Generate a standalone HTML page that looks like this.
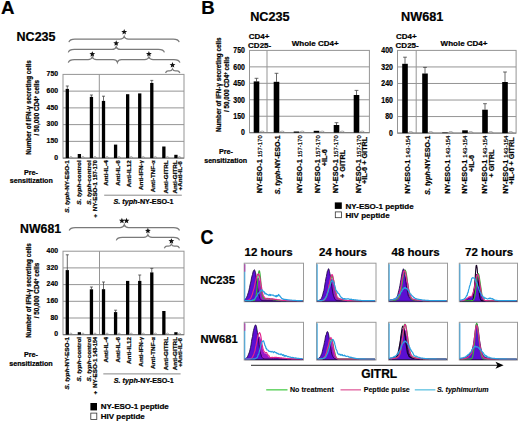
<!DOCTYPE html><html><head><meta charset="utf-8"><style>html,body{margin:0;padding:0;background:#fff;width:520px;height:423px;overflow:hidden}svg{display:block}text{font-family:"Liberation Sans",sans-serif;stroke:#000;stroke-width:0.22px;stroke-linejoin:round}</style></head><body>
<svg width="520" height="423" viewBox="0 0 520 423">
<rect width="520" height="423" fill="#fff"/>
<text x="1.0" y="13.8" font-size="18.7" font-weight="bold" text-anchor="start" fill="#000" >A</text>
<text x="16.6" y="40.5" font-size="12.5" font-weight="bold" text-anchor="start" fill="#000" >NC235</text>
<path d="M68.9,42.1 C69.5,39.9 71.10000000000001,39.1 74.9,39.1 L120.0,39.1 Q123.4,39.1 124.2,36.4 Q125.0,39.1 128.4,39.1 L173.2,39.1 C177.0,39.1 178.6,39.9 179.2,42.1" fill="none" stroke="#7a7a7a" stroke-width="1.25"/>
<polygon points="124.20,28.95 124.99,30.91 127.10,31.06 125.48,32.41 125.99,34.47 124.20,33.34 122.41,34.47 122.92,32.41 121.30,31.06 123.41,30.91" fill="#111"/>
<path d="M68.3,52.4 C68.89999999999999,50.199999999999996 70.5,49.4 74.3,49.4 L112.0,49.4 Q115.4,49.4 116.2,46.699999999999996 Q117.0,49.4 120.4,49.4 L158.4,49.4 C162.20000000000002,49.4 163.8,50.199999999999996 164.4,52.4" fill="none" stroke="#7a7a7a" stroke-width="1.25"/>
<polygon points="116.20,40.25 116.99,42.21 119.10,42.36 117.48,43.71 117.99,45.77 116.20,44.64 114.41,45.77 114.92,43.71 113.30,42.36 115.41,42.21" fill="#111"/>
<path d="M68.3,62.6 C68.89999999999999,60.4 70.5,59.6 74.3,59.6 L88.1,59.6 Q91.5,59.6 92.3,56.9 Q93.1,59.6 96.5,59.6 L113.2,59.6 Q116.60000000000001,59.6 117.4,62.300000000000004 Q118.2,59.6 121.60000000000001,59.6 L144.70000000000002,59.6 Q148.1,59.6 148.9,56.9 Q149.70000000000002,59.6 153.1,59.6 L173.9,59.6 C177.70000000000002,59.6 179.3,60.4 179.9,62.6" fill="none" stroke="#7a7a7a" stroke-width="1.25"/>
<polygon points="92.30,51.15 93.09,53.11 95.20,53.26 93.58,54.61 94.09,56.67 92.30,55.54 90.51,56.67 91.02,54.61 89.40,53.26 91.51,53.11" fill="#111"/>
<polygon points="148.90,50.95 149.69,52.91 151.80,53.06 150.18,54.41 150.69,56.47 148.90,55.34 147.11,56.47 147.62,54.41 146.00,53.06 148.11,52.91" fill="#111"/>
<path d="M165.5,72.9 C166.1,71.7 167.7,70.9 168.0,70.9 L169.5,70.9 Q171.7,70.9 172.5,68.9 Q173.3,70.9 175.5,70.9 L177.4,70.9 C177.70000000000002,70.9 179.3,71.7 179.9,72.9" fill="none" stroke="#7a7a7a" stroke-width="1.25"/>
<polygon points="172.50,62.05 173.29,64.01 175.40,64.16 173.78,65.51 174.29,67.57 172.50,66.44 170.71,67.57 171.22,65.51 169.60,64.16 171.71,64.01" fill="#111"/>
<rect x="63" y="74.4" width="121" height="83.69999999999999" fill="#fff" stroke="#959595" stroke-width="1"/>
<line x1="63" y1="91.14" x2="184" y2="91.14" stroke="#959595" stroke-width="1"/>
<line x1="63" y1="107.88" x2="184" y2="107.88" stroke="#959595" stroke-width="1"/>
<line x1="63" y1="124.62" x2="184" y2="124.62" stroke="#959595" stroke-width="1"/>
<line x1="63" y1="141.36" x2="184" y2="141.36" stroke="#959595" stroke-width="1"/>
<line x1="99.3" y1="74.4" x2="99.3" y2="158.1" stroke="#959595" stroke-width="1"/>
<line x1="63" y1="158.1" x2="184" y2="158.1" stroke="#777" stroke-width="1"/>
<line x1="67.3" y1="86" x2="67.3" y2="88.9" stroke="#444" stroke-width="0.8"/>
<line x1="65.8" y1="86" x2="68.8" y2="86" stroke="#444" stroke-width="0.8"/>
<rect x="65.65" y="88.9" width="3.3" height="69.20" fill="#000"/>
<path d="M69.35,158.1 Q69.55,156.5 70.85,156.5 Q72.15,156.5 72.35,158.1" fill="none" stroke="#888" stroke-width="0.7"/>
<rect x="77.72" y="154" width="3.3" height="4.10" fill="#000"/>
<path d="M81.42,158.1 Q81.62,156.5 82.92,156.5 Q84.22,156.5 84.42,158.1" fill="none" stroke="#888" stroke-width="0.7"/>
<line x1="91.44" y1="95" x2="91.44" y2="96.9" stroke="#444" stroke-width="0.8"/>
<line x1="89.94" y1="95" x2="92.94" y2="95" stroke="#444" stroke-width="0.8"/>
<rect x="89.79" y="96.9" width="3.3" height="61.20" fill="#000"/>
<path d="M93.49,158.1 Q93.69,156.5 94.99,156.5 Q96.29,156.5 96.49,158.1" fill="none" stroke="#888" stroke-width="0.7"/>
<line x1="103.50999999999999" y1="96.2" x2="103.50999999999999" y2="100.9" stroke="#444" stroke-width="0.8"/>
<line x1="102.00999999999999" y1="96.2" x2="105.00999999999999" y2="96.2" stroke="#444" stroke-width="0.8"/>
<rect x="101.86" y="100.9" width="3.3" height="57.20" fill="#000"/>
<path d="M105.56,158.1 Q105.76,156.5 107.06,156.5 Q108.36,156.5 108.56,158.1" fill="none" stroke="#888" stroke-width="0.7"/>
<rect x="113.93" y="144.6" width="3.3" height="13.50" fill="#000"/>
<path d="M117.63,158.1 Q117.83,156.5 119.13,156.5 Q120.43,156.5 120.63,158.1" fill="none" stroke="#888" stroke-width="0.7"/>
<rect x="126.00" y="94.2" width="3.3" height="63.90" fill="#000"/>
<path d="M129.70,158.1 Q129.90,156.5 131.20,156.5 Q132.50,156.5 132.70,158.1" fill="none" stroke="#888" stroke-width="0.7"/>
<rect x="138.07" y="93.4" width="3.3" height="64.70" fill="#000"/>
<path d="M141.77,158.1 Q141.97,156.5 143.27,156.5 Q144.57,156.5 144.77,158.1" fill="none" stroke="#888" stroke-width="0.7"/>
<line x1="151.79000000000002" y1="80.4" x2="151.79000000000002" y2="83" stroke="#444" stroke-width="0.8"/>
<line x1="150.29000000000002" y1="80.4" x2="153.29000000000002" y2="80.4" stroke="#444" stroke-width="0.8"/>
<rect x="150.14" y="83" width="3.3" height="75.10" fill="#000"/>
<path d="M153.84,158.1 Q154.04,156.5 155.34,156.5 Q156.64,156.5 156.84,158.1" fill="none" stroke="#888" stroke-width="0.7"/>
<rect x="162.21" y="146.5" width="3.3" height="11.60" fill="#000"/>
<path d="M165.91,158.1 Q166.11,156.5 167.41,156.5 Q168.71,156.5 168.91,158.1" fill="none" stroke="#888" stroke-width="0.7"/>
<rect x="174.28" y="154.8" width="3.3" height="3.30" fill="#000"/>
<path d="M177.98,158.1 Q178.18,156.5 179.48,156.5 Q180.78,156.5 180.98,158.1" fill="none" stroke="#888" stroke-width="0.7"/>
<text transform="translate(58.0,76.11) scale(0.88,1)" font-size="7.8" font-weight="bold" text-anchor="end">750</text>
<text transform="translate(58.0,92.85) scale(0.88,1)" font-size="7.8" font-weight="bold" text-anchor="end">600</text>
<text transform="translate(58.0,109.59) scale(0.88,1)" font-size="7.8" font-weight="bold" text-anchor="end">450</text>
<text transform="translate(58.0,126.33) scale(0.88,1)" font-size="7.8" font-weight="bold" text-anchor="end">300</text>
<text transform="translate(58.0,143.07) scale(0.88,1)" font-size="7.8" font-weight="bold" text-anchor="end">150</text>
<text transform="translate(58.0,159.81) scale(0.88,1)" font-size="7.8" font-weight="bold" text-anchor="end">0</text>
<text transform="translate(31.10,107.5) rotate(-90)" font-size="6.3" font-weight="bold" text-anchor="middle">Number of IFN-γ secreting cells</text>
<text transform="translate(39.30,107.8) rotate(-90)" font-size="6.3" font-weight="bold" text-anchor="middle">/ 50,000 CD4<tspan font-size="4.5" dy="-2">+</tspan><tspan dy="2"> cells</tspan></text>
<text transform="translate(69.30,160.3) rotate(-90) scale(1.1052631578947367,1)" font-size="5.7" font-weight="bold" text-anchor="end"><tspan font-style="italic">S. typh</tspan>-NY-ESO-1</text>
<text transform="translate(81.40,160.3) rotate(-90) scale(1.1052631578947367,1)" font-size="5.7" font-weight="bold" text-anchor="end"><tspan font-style="italic">S. typh</tspan>-control</text>
<text transform="translate(90.90,160.3) rotate(-90) scale(1.1052631578947367,1)" font-size="5.7" font-weight="bold" text-anchor="end"><tspan font-style="italic">S. typh</tspan>-control</text>
<text transform="translate(97.40,160.3) rotate(-90) scale(1.1052631578947367,1)" font-size="5.7" font-weight="bold" text-anchor="end">+ <tspan dx="1">NY-ESO-1</tspan> <tspan font-size="4.9">157-170</tspan></text>
<text transform="translate(107.60,160.3) rotate(-90) scale(1.1052631578947367,1)" font-size="5.7" font-weight="bold" text-anchor="end">Anti-IL-4</text>
<text transform="translate(119.70,160.3) rotate(-90) scale(1.1052631578947367,1)" font-size="5.7" font-weight="bold" text-anchor="end">Anti-IL-6</text>
<text transform="translate(130.70,160.3) rotate(-90) scale(1.1052631578947367,1)" font-size="5.7" font-weight="bold" text-anchor="end">Anti-IL12</text>
<text transform="translate(142.60,160.3) rotate(-90) scale(1.1052631578947367,1)" font-size="5.7" font-weight="bold" text-anchor="end">Anti-IFN-<tspan font-size="5">γ</tspan></text>
<text transform="translate(154.70,160.3) rotate(-90) scale(1.1052631578947367,1)" font-size="5.7" font-weight="bold" text-anchor="end">Anti-TNF-<tspan font-size="5">α</tspan></text>
<text transform="translate(167.90,160.3) rotate(-90) scale(1.1052631578947367,1)" font-size="5.7" font-weight="bold" text-anchor="end">Anti-GITRL</text>
<text transform="translate(176.50,160.3) rotate(-90) scale(1.1052631578947367,1)" font-size="5.7" font-weight="bold" text-anchor="end">Anti-GITRL</text>
<text transform="translate(181.70,161.20000000000002) rotate(-90) scale(1.1052631578947367,1)" font-size="5.7" font-weight="bold" text-anchor="end">+Anti-IL-6</text>
<line x1="104.2" y1="195.2" x2="181.8" y2="195.2" stroke="#888" stroke-width="1"/>
<text x="143.5" y="203.9" font-size="7.2" font-weight="bold" text-anchor="middle" fill="#000" ><tspan font-style="italic">S. typh</tspan>-NY-ESO-1</text>
<text x="31" y="174.5" font-size="7.2" font-weight="bold" text-anchor="middle" fill="#000" >Pre-</text>
<text x="31.3" y="183" font-size="7.1" font-weight="bold" text-anchor="middle" fill="#000" >sensitization</text>
<text x="20.1" y="232.7" font-size="12.3" font-weight="bold" text-anchor="start" fill="#000" >NW681</text>
<path d="M69.2,230.5 C69.8,228.3 71.4,227.5 75.2,227.5 L120.1,227.5 Q123.5,227.5 124.3,224.8 Q125.1,227.5 128.5,227.5 L173.5,227.5 C177.3,227.5 178.9,228.3 179.5,230.5" fill="none" stroke="#7a7a7a" stroke-width="1.25"/>
<polygon points="121.90,217.75 122.69,219.71 124.80,219.86 123.18,221.21 123.69,223.27 121.90,222.14 120.11,223.27 120.62,221.21 119.00,219.86 121.11,219.71" fill="#111"/>
<polygon points="126.50,217.75 127.29,219.71 129.40,219.86 127.78,221.21 128.29,223.27 126.50,222.14 124.71,223.27 125.22,221.21 123.60,219.86 125.71,219.71" fill="#111"/>
<path d="M116.3,240.3 C116.89999999999999,238.10000000000002 118.5,237.3 122.3,237.3 L143.70000000000002,237.3 Q147.1,237.3 147.9,234.60000000000002 Q148.70000000000002,237.3 152.1,237.3 L173.5,237.3 C177.3,237.3 178.9,238.10000000000002 179.5,240.3" fill="none" stroke="#7a7a7a" stroke-width="1.25"/>
<polygon points="147.90,227.85 148.69,229.81 150.80,229.96 149.18,231.31 149.69,233.37 147.90,232.24 146.11,233.37 146.62,231.31 145.00,229.96 147.11,229.81" fill="#111"/>
<path d="M164.3,248.2 C164.9,247.0 166.5,246.2 166.8,246.2 L168.4,246.2 Q170.6,246.2 171.4,244.2 Q172.20000000000002,246.2 174.4,246.2 L177.0,246.2 C177.3,246.2 178.9,247.0 179.5,248.2" fill="none" stroke="#7a7a7a" stroke-width="1.25"/>
<polygon points="171.40,238.15 172.19,240.11 174.30,240.26 172.68,241.61 173.19,243.67 171.40,242.54 169.61,243.67 170.12,241.61 168.50,240.26 170.61,240.11" fill="#111"/>
<rect x="63" y="251.2" width="121" height="83.5" fill="#fff" stroke="#959595" stroke-width="1"/>
<line x1="63" y1="267.90" x2="184" y2="267.90" stroke="#959595" stroke-width="1"/>
<line x1="63" y1="284.60" x2="184" y2="284.60" stroke="#959595" stroke-width="1"/>
<line x1="63" y1="301.30" x2="184" y2="301.30" stroke="#959595" stroke-width="1"/>
<line x1="63" y1="318.00" x2="184" y2="318.00" stroke="#959595" stroke-width="1"/>
<line x1="99.5" y1="251.2" x2="99.5" y2="334.7" stroke="#959595" stroke-width="1"/>
<line x1="63" y1="334.7" x2="184" y2="334.7" stroke="#777" stroke-width="1"/>
<line x1="67.3" y1="254.8" x2="67.3" y2="270.1" stroke="#444" stroke-width="0.8"/>
<line x1="65.8" y1="254.8" x2="68.8" y2="254.8" stroke="#444" stroke-width="0.8"/>
<rect x="65.65" y="270.1" width="3.3" height="64.60" fill="#000"/>
<path d="M69.35,334.7 Q69.55,333.09999999999997 70.85,333.09999999999997 Q72.15,333.09999999999997 72.35,334.7" fill="none" stroke="#888" stroke-width="0.7"/>
<rect x="77.72" y="332.2" width="3.3" height="2.50" fill="#000"/>
<path d="M81.42,334.7 Q81.62,333.09999999999997 82.92,333.09999999999997 Q84.22,333.09999999999997 84.42,334.7" fill="none" stroke="#888" stroke-width="0.7"/>
<line x1="91.44" y1="287" x2="91.44" y2="289.3" stroke="#444" stroke-width="0.8"/>
<line x1="89.94" y1="287" x2="92.94" y2="287" stroke="#444" stroke-width="0.8"/>
<rect x="89.79" y="289.3" width="3.3" height="45.40" fill="#000"/>
<path d="M93.49,334.7 Q93.69,333.09999999999997 94.99,333.09999999999997 Q96.29,333.09999999999997 96.49,334.7" fill="none" stroke="#888" stroke-width="0.7"/>
<line x1="103.50999999999999" y1="282" x2="103.50999999999999" y2="289.2" stroke="#444" stroke-width="0.8"/>
<line x1="102.00999999999999" y1="282" x2="105.00999999999999" y2="282" stroke="#444" stroke-width="0.8"/>
<rect x="101.86" y="289.2" width="3.3" height="45.50" fill="#000"/>
<path d="M105.56,334.7 Q105.76,333.09999999999997 107.06,333.09999999999997 Q108.36,333.09999999999997 108.56,334.7" fill="none" stroke="#888" stroke-width="0.7"/>
<line x1="115.58" y1="310.2" x2="115.58" y2="312.1" stroke="#444" stroke-width="0.8"/>
<line x1="114.08" y1="310.2" x2="117.08" y2="310.2" stroke="#444" stroke-width="0.8"/>
<rect x="113.93" y="312.1" width="3.3" height="22.60" fill="#000"/>
<path d="M117.63,334.7 Q117.83,333.09999999999997 119.13,333.09999999999997 Q120.43,333.09999999999997 120.63,334.7" fill="none" stroke="#888" stroke-width="0.7"/>
<rect x="126.00" y="280.9" width="3.3" height="53.80" fill="#000"/>
<path d="M129.70,334.7 Q129.90,333.09999999999997 131.20,333.09999999999997 Q132.50,333.09999999999997 132.70,334.7" fill="none" stroke="#888" stroke-width="0.7"/>
<line x1="139.72" y1="275" x2="139.72" y2="280.9" stroke="#444" stroke-width="0.8"/>
<line x1="138.22" y1="275" x2="141.22" y2="275" stroke="#444" stroke-width="0.8"/>
<rect x="138.07" y="280.9" width="3.3" height="53.80" fill="#000"/>
<path d="M141.77,334.7 Q141.97,333.09999999999997 143.27,333.09999999999997 Q144.57,333.09999999999997 144.77,334.7" fill="none" stroke="#888" stroke-width="0.7"/>
<line x1="151.79000000000002" y1="268.4" x2="151.79000000000002" y2="272.4" stroke="#444" stroke-width="0.8"/>
<line x1="150.29000000000002" y1="268.4" x2="153.29000000000002" y2="268.4" stroke="#444" stroke-width="0.8"/>
<rect x="150.14" y="272.4" width="3.3" height="62.30" fill="#000"/>
<path d="M153.84,334.7 Q154.04,333.09999999999997 155.34,333.09999999999997 Q156.64,333.09999999999997 156.84,334.7" fill="none" stroke="#888" stroke-width="0.7"/>
<rect x="162.21" y="311" width="3.3" height="23.70" fill="#000"/>
<path d="M165.91,334.7 Q166.11,333.09999999999997 167.41,333.09999999999997 Q168.71,333.09999999999997 168.91,334.7" fill="none" stroke="#888" stroke-width="0.7"/>
<rect x="174.28" y="332.2" width="3.3" height="2.50" fill="#000"/>
<path d="M177.98,334.7 Q178.18,333.09999999999997 179.48,333.09999999999997 Q180.78,333.09999999999997 180.98,334.7" fill="none" stroke="#888" stroke-width="0.7"/>
<text transform="translate(58.0,252.91) scale(0.88,1)" font-size="7.8" font-weight="bold" text-anchor="end">400</text>
<text transform="translate(58.0,269.61) scale(0.88,1)" font-size="7.8" font-weight="bold" text-anchor="end">320</text>
<text transform="translate(58.0,286.31) scale(0.88,1)" font-size="7.8" font-weight="bold" text-anchor="end">240</text>
<text transform="translate(58.0,303.01) scale(0.88,1)" font-size="7.8" font-weight="bold" text-anchor="end">160</text>
<text transform="translate(58.0,319.71) scale(0.88,1)" font-size="7.8" font-weight="bold" text-anchor="end">80</text>
<text transform="translate(58.0,336.41) scale(0.88,1)" font-size="7.8" font-weight="bold" text-anchor="end">0</text>
<text transform="translate(31.00,290.6) rotate(-90)" font-size="6.3" font-weight="bold" text-anchor="middle">Number of IFN-γ secreting cells</text>
<text transform="translate(39.00,290.4) rotate(-90)" font-size="6.3" font-weight="bold" text-anchor="middle">/ 50,000 CD4<tspan font-size="4.5" dy="-2">+</tspan><tspan dy="2"> cells</tspan></text>
<text transform="translate(69.30,337) rotate(-90) scale(1.1052631578947367,1)" font-size="5.7" font-weight="bold" text-anchor="end"><tspan font-style="italic">S. typh</tspan>-NY-ESO-1</text>
<text transform="translate(81.40,337) rotate(-90) scale(1.1052631578947367,1)" font-size="5.7" font-weight="bold" text-anchor="end"><tspan font-style="italic">S. typh</tspan>-control</text>
<text transform="translate(90.90,337) rotate(-90) scale(1.1052631578947367,1)" font-size="5.7" font-weight="bold" text-anchor="end"><tspan font-style="italic">S. typh</tspan>-control</text>
<text transform="translate(97.40,337) rotate(-90) scale(1.1052631578947367,1)" font-size="5.7" font-weight="bold" text-anchor="end">+ <tspan dx="1">NY-ESO-1</tspan> <tspan font-size="4.9">143-154</tspan></text>
<text transform="translate(107.60,337) rotate(-90) scale(1.1052631578947367,1)" font-size="5.7" font-weight="bold" text-anchor="end">Anti-IL-4</text>
<text transform="translate(119.70,337) rotate(-90) scale(1.1052631578947367,1)" font-size="5.7" font-weight="bold" text-anchor="end">Anti-IL-6</text>
<text transform="translate(130.70,337) rotate(-90) scale(1.1052631578947367,1)" font-size="5.7" font-weight="bold" text-anchor="end">Anti-IL12</text>
<text transform="translate(142.60,337) rotate(-90) scale(1.1052631578947367,1)" font-size="5.7" font-weight="bold" text-anchor="end">Anti-IFN-<tspan font-size="5">γ</tspan></text>
<text transform="translate(154.70,337) rotate(-90) scale(1.1052631578947367,1)" font-size="5.7" font-weight="bold" text-anchor="end">Anti-TNF-<tspan font-size="5">α</tspan></text>
<text transform="translate(167.90,337) rotate(-90) scale(1.1052631578947367,1)" font-size="5.7" font-weight="bold" text-anchor="end">Anti-GITRL</text>
<text transform="translate(176.50,337) rotate(-90) scale(1.1052631578947367,1)" font-size="5.7" font-weight="bold" text-anchor="end">Anti-GITRL</text>
<text transform="translate(181.70,337.9) rotate(-90) scale(1.1052631578947367,1)" font-size="5.7" font-weight="bold" text-anchor="end">+Anti-IL-6</text>
<line x1="103.3" y1="373.9" x2="180.6" y2="373.9" stroke="#888" stroke-width="1"/>
<text x="143.8" y="382.7" font-size="7.2" font-weight="bold" text-anchor="middle" fill="#000" ><tspan font-style="italic">S. typh</tspan>-NY-ESO-1</text>
<text x="31" y="356.5" font-size="7.2" font-weight="bold" text-anchor="middle" fill="#000" >Pre-</text>
<text x="31" y="365.5" font-size="7.2" font-weight="bold" text-anchor="middle" fill="#000" >sensitization</text>
<rect x="90.4" y="403" width="6.6" height="7.4" fill="#000"/>
<rect x="90.8" y="413.1" width="6" height="6.3" fill="#fff" stroke="#333" stroke-width="0.8"/>
<text x="100.8" y="408.5" font-size="8" font-weight="bold" text-anchor="start" fill="#000" >NY-ESO-1 peptide</text>
<text x="100.8" y="419" font-size="8" font-weight="bold" text-anchor="start" fill="#000" >HIV peptide</text>
<text x="201.3" y="13.8" font-size="18.6" font-weight="bold" text-anchor="start" fill="#000" >B</text>
<text x="250.2" y="21" font-size="12.7" font-weight="bold" text-anchor="start" fill="#000" >NC235</text>
<text x="401.0" y="21.4" font-size="12.7" font-weight="bold" text-anchor="start" fill="#000" >NW681</text>
<rect x="249.5" y="50.4" width="119.89999999999998" height="82.29999999999998" fill="#fff" stroke="#959595" stroke-width="1"/>
<line x1="249.5" y1="66.86" x2="369.4" y2="66.86" stroke="#959595" stroke-width="1"/>
<line x1="249.5" y1="83.32" x2="369.4" y2="83.32" stroke="#959595" stroke-width="1"/>
<line x1="249.5" y1="99.78" x2="369.4" y2="99.78" stroke="#959595" stroke-width="1"/>
<line x1="249.5" y1="116.24" x2="369.4" y2="116.24" stroke="#959595" stroke-width="1"/>
<line x1="267" y1="50.4" x2="267" y2="132.7" stroke="#959595" stroke-width="1"/>
<line x1="249.5" y1="132.7" x2="369.4" y2="132.7" stroke="#777" stroke-width="1"/>
<line x1="256.5" y1="78.3" x2="256.5" y2="81.4" stroke="#444" stroke-width="0.8"/>
<line x1="254.6" y1="78.3" x2="258.4" y2="78.3" stroke="#444" stroke-width="0.8"/>
<rect x="253.70" y="81.4" width="5.6" height="51.30" fill="#000"/>
<path d="M259.70,132.7 Q259.90,131.1 262.20,131.1 Q264.50,131.1 264.70,132.7" fill="none" stroke="#888" stroke-width="0.7"/>
<line x1="276.5" y1="73.3" x2="276.5" y2="81.8" stroke="#444" stroke-width="0.8"/>
<line x1="274.6" y1="73.3" x2="278.4" y2="73.3" stroke="#444" stroke-width="0.8"/>
<rect x="273.70" y="81.8" width="5.6" height="50.90" fill="#000"/>
<path d="M279.70,132.7 Q279.90,131.1 282.20,131.1 Q284.50,131.1 284.70,132.7" fill="none" stroke="#888" stroke-width="0.7"/>
<rect x="293.70" y="131.5" width="5.6" height="1.20" fill="#000"/>
<path d="M299.70,132.7 Q299.90,131.1 302.20,131.1 Q304.50,131.1 304.70,132.7" fill="none" stroke="#888" stroke-width="0.7"/>
<rect x="313.70" y="130.8" width="5.6" height="1.90" fill="#000"/>
<path d="M319.70,132.7 Q319.90,131.1 322.20,131.1 Q324.50,131.1 324.70,132.7" fill="none" stroke="#888" stroke-width="0.7"/>
<line x1="336.5" y1="122.7" x2="336.5" y2="125" stroke="#444" stroke-width="0.8"/>
<line x1="334.6" y1="122.7" x2="338.4" y2="122.7" stroke="#444" stroke-width="0.8"/>
<rect x="333.70" y="125" width="5.6" height="7.70" fill="#000"/>
<path d="M339.70,132.7 Q339.90,131.1 342.20,131.1 Q344.50,131.1 344.70,132.7" fill="none" stroke="#888" stroke-width="0.7"/>
<line x1="356.5" y1="90.4" x2="356.5" y2="95" stroke="#444" stroke-width="0.8"/>
<line x1="354.6" y1="90.4" x2="358.4" y2="90.4" stroke="#444" stroke-width="0.8"/>
<rect x="353.70" y="95" width="5.6" height="37.70" fill="#000"/>
<path d="M359.70,132.7 Q359.90,131.1 362.20,131.1 Q364.50,131.1 364.70,132.7" fill="none" stroke="#888" stroke-width="0.7"/>
<text transform="translate(245.0,53.19) scale(0.84,1)" font-size="8.3" font-weight="bold" text-anchor="end">750</text>
<text transform="translate(245.0,69.65) scale(0.84,1)" font-size="8.3" font-weight="bold" text-anchor="end">600</text>
<text transform="translate(245.0,86.11) scale(0.84,1)" font-size="8.3" font-weight="bold" text-anchor="end">450</text>
<text transform="translate(245.0,102.57) scale(0.84,1)" font-size="8.3" font-weight="bold" text-anchor="end">300</text>
<text transform="translate(245.0,119.03) scale(0.84,1)" font-size="8.3" font-weight="bold" text-anchor="end">150</text>
<text transform="translate(245.0,135.49) scale(0.84,1)" font-size="8.3" font-weight="bold" text-anchor="end">0</text>
<rect x="397.5" y="50.4" width="118.60000000000002" height="82.69999999999999" fill="#fff" stroke="#959595" stroke-width="1"/>
<line x1="397.5" y1="66.94" x2="516.1" y2="66.94" stroke="#959595" stroke-width="1"/>
<line x1="397.5" y1="83.48" x2="516.1" y2="83.48" stroke="#959595" stroke-width="1"/>
<line x1="397.5" y1="100.02" x2="516.1" y2="100.02" stroke="#959595" stroke-width="1"/>
<line x1="397.5" y1="116.56" x2="516.1" y2="116.56" stroke="#959595" stroke-width="1"/>
<line x1="416.2" y1="50.4" x2="416.2" y2="133.1" stroke="#959595" stroke-width="1"/>
<line x1="397.5" y1="133.1" x2="516.1" y2="133.1" stroke="#777" stroke-width="1"/>
<line x1="405" y1="57.2" x2="405" y2="63.8" stroke="#444" stroke-width="0.8"/>
<line x1="403.1" y1="57.2" x2="406.9" y2="57.2" stroke="#444" stroke-width="0.8"/>
<rect x="402.20" y="63.8" width="5.6" height="69.30" fill="#000"/>
<path d="M408.20,133.1 Q408.40,131.5 410.70,131.5 Q413.00,131.5 413.20,133.1" fill="none" stroke="#888" stroke-width="0.7"/>
<line x1="425" y1="67.4" x2="425" y2="73.5" stroke="#444" stroke-width="0.8"/>
<line x1="423.1" y1="67.4" x2="426.9" y2="67.4" stroke="#444" stroke-width="0.8"/>
<rect x="422.20" y="73.5" width="5.6" height="59.60" fill="#000"/>
<path d="M428.20,133.1 Q428.40,131.5 430.70,131.5 Q433.00,131.5 433.20,133.1" fill="none" stroke="#888" stroke-width="0.7"/>
<rect x="442.20" y="132.5" width="5.6" height="0.60" fill="#000"/>
<path d="M448.20,133.1 Q448.40,131.5 450.70,131.5 Q453.00,131.5 453.20,133.1" fill="none" stroke="#888" stroke-width="0.7"/>
<rect x="462.20" y="130.3" width="5.6" height="2.80" fill="#000"/>
<path d="M468.20,133.1 Q468.40,131.5 470.70,131.5 Q473.00,131.5 473.20,133.1" fill="none" stroke="#888" stroke-width="0.7"/>
<line x1="485" y1="103.7" x2="485" y2="109.7" stroke="#444" stroke-width="0.8"/>
<line x1="483.1" y1="103.7" x2="486.9" y2="103.7" stroke="#444" stroke-width="0.8"/>
<rect x="482.20" y="109.7" width="5.6" height="23.40" fill="#000"/>
<path d="M488.20,133.1 Q488.40,131.5 490.70,131.5 Q493.00,131.5 493.20,133.1" fill="none" stroke="#888" stroke-width="0.7"/>
<line x1="505" y1="72" x2="505" y2="82" stroke="#444" stroke-width="0.8"/>
<line x1="503.1" y1="72" x2="506.9" y2="72" stroke="#444" stroke-width="0.8"/>
<rect x="502.20" y="82" width="5.6" height="51.10" fill="#000"/>
<path d="M508.20,133.1 Q508.40,131.5 510.70,131.5 Q513.00,131.5 513.20,133.1" fill="none" stroke="#888" stroke-width="0.7"/>
<text transform="translate(393.0,53.19) scale(0.84,1)" font-size="8.3" font-weight="bold" text-anchor="end">400</text>
<text transform="translate(393.0,69.73) scale(0.84,1)" font-size="8.3" font-weight="bold" text-anchor="end">320</text>
<text transform="translate(393.0,86.27) scale(0.84,1)" font-size="8.3" font-weight="bold" text-anchor="end">240</text>
<text transform="translate(393.0,102.81) scale(0.84,1)" font-size="8.3" font-weight="bold" text-anchor="end">160</text>
<text transform="translate(393.0,119.35) scale(0.84,1)" font-size="8.3" font-weight="bold" text-anchor="end">80</text>
<text transform="translate(393.0,135.89) scale(0.84,1)" font-size="8.3" font-weight="bold" text-anchor="end">0</text>
<text x="248.8" y="39.2" font-size="8" font-weight="bold" text-anchor="start" fill="#000" >CD4+</text>
<text x="248.1" y="48.2" font-size="8" font-weight="bold" text-anchor="start" fill="#000" >CD25-</text>
<text x="291.8" y="45.8" font-size="8.0" font-weight="bold" text-anchor="start" fill="#000" >Whole CD4+</text>
<text x="396.0" y="39.2" font-size="8" font-weight="bold" text-anchor="start" fill="#000" >CD4+</text>
<text x="395.6" y="48.2" font-size="8" font-weight="bold" text-anchor="start" fill="#000" >CD25-</text>
<text x="440.6" y="45.8" font-size="8.0" font-weight="bold" text-anchor="start" fill="#000" >Whole CD4+</text>
<text transform="translate(221.00,84.8) rotate(-90)" font-size="6.3" font-weight="bold" text-anchor="middle">Number of IFN-γ secreting cells</text>
<text transform="translate(229.40,84.2) rotate(-90)" font-size="6.3" font-weight="bold" text-anchor="middle">/ 50,000 CD4<tspan font-size="4.5" dy="-2">+</tspan><tspan dy="2"> cells</tspan></text>
<text x="226" y="154.3" font-size="7.2" font-weight="bold" text-anchor="middle" fill="#000" >Pre-</text>
<text x="225.7" y="163.2" font-size="7.1" font-weight="bold" text-anchor="middle" fill="#000" >sensitization</text>
<text transform="translate(262.42,135.2) rotate(-90)" font-size="7.3" font-weight="bold" text-anchor="end">NY-ESO-1 <tspan font-size="6" font-weight="normal">157-170</tspan></text>
<text transform="translate(280.12,135.2) rotate(-90)" font-size="7.1" font-weight="bold" text-anchor="end"><tspan font-style="italic">S. typh</tspan>-NY-ESO-1</text>
<text transform="translate(302.12,135.2) rotate(-90)" font-size="7.3" font-weight="bold" text-anchor="end">NY-ESO-1 <tspan font-size="6" font-weight="normal">157-170</tspan></text>
<text transform="translate(320.42,135.2) rotate(-90)" font-size="7.3" font-weight="bold" text-anchor="end">NY-ESO-1 <tspan font-size="6" font-weight="normal">157-170</tspan></text>
<text transform="translate(327.02,157.7) rotate(-90)" font-size="7.3" font-weight="bold" text-anchor="middle">+IL-6</text>
<text transform="translate(338.12,135.2) rotate(-90)" font-size="7.3" font-weight="bold" text-anchor="end">NY-ESO-1 <tspan font-size="6" font-weight="normal">157-170</tspan></text>
<text transform="translate(344.72,163.9) rotate(-90)" font-size="7.3" font-weight="bold" text-anchor="middle">+ GITRL</text>
<text transform="translate(360.82,135.2) rotate(-90)" font-size="7.3" font-weight="bold" text-anchor="end">NY-ESO-1 <tspan font-size="6" font-weight="normal">157-170</tspan></text>
<text transform="translate(367.42,160.4) rotate(-90)" font-size="7.3" font-weight="bold" text-anchor="middle">+IL-6 + GITRL</text>
<text transform="translate(410.02,135.6) rotate(-90)" font-size="7.3" font-weight="bold" text-anchor="end">NY-ESO-1 <tspan font-size="6" font-weight="normal">143-154</tspan></text>
<text transform="translate(429.52,135.6) rotate(-90)" font-size="7.1" font-weight="bold" text-anchor="end"><tspan font-style="italic">S. typh</tspan>-NY-ESO-1</text>
<text transform="translate(449.52,135.6) rotate(-90)" font-size="7.3" font-weight="bold" text-anchor="end">NY-ESO-1 <tspan font-size="6" font-weight="normal">143-154</tspan></text>
<text transform="translate(466.92,135.6) rotate(-90)" font-size="7.3" font-weight="bold" text-anchor="end">NY-ESO-1 <tspan font-size="6" font-weight="normal">143-154</tspan></text>
<text transform="translate(473.72,163.5) rotate(-90)" font-size="7.3" font-weight="bold" text-anchor="middle">+IL-6</text>
<text transform="translate(486.82,135.6) rotate(-90)" font-size="7.3" font-weight="bold" text-anchor="end">NY-ESO-1 <tspan font-size="6" font-weight="normal">143-154</tspan></text>
<text transform="translate(493.52,163.5) rotate(-90)" font-size="7.3" font-weight="bold" text-anchor="middle">+ GITRL</text>
<text transform="translate(507.62,135.6) rotate(-90)" font-size="7.3" font-weight="bold" text-anchor="end">NY-ESO-1 <tspan font-size="6" font-weight="normal">143-154</tspan></text>
<text transform="translate(513.72,161) rotate(-90)" font-size="7.3" font-weight="bold" text-anchor="middle">+IL-6 + GITRL</text>
<rect x="334.8" y="202.4" width="7" height="6.5" fill="#000"/>
<rect x="335.3" y="211.9" width="6.1" height="5.8" fill="#fff" stroke="#333" stroke-width="0.8"/>
<text x="345.6" y="209" font-size="8" font-weight="bold" text-anchor="start" fill="#000" >NY-ESO-1 peptide</text>
<text x="345.6" y="218" font-size="8" font-weight="bold" text-anchor="start" fill="#000" >HIV peptide</text>
<text transform="translate(200.6,244.3) scale(0.9,1)" font-size="20" font-weight="bold">C</text>
<text x="244.60000000000002" y="255.5" font-size="11.5" font-weight="bold" text-anchor="start" fill="#000" >12 hours</text>
<text x="319.0" y="255.5" font-size="11.5" font-weight="bold" text-anchor="start" fill="#000" >24 hours</text>
<text x="391.6" y="255.5" font-size="11.5" font-weight="bold" text-anchor="start" fill="#000" >48 hours</text>
<text x="465.1" y="255.5" font-size="11.5" font-weight="bold" text-anchor="start" fill="#000" >72 hours</text>
<text x="200.2" y="283.6" font-size="11.2" font-weight="bold" text-anchor="start" fill="#000" >NC235</text>
<text x="200.4" y="342.8" font-size="11.2" font-weight="bold" text-anchor="start" fill="#000" >NW681</text>
<rect x="244.2" y="263.2" width="59.3" height="38.5" fill="#fff" stroke="#9a9a9a" stroke-width="1"/>
<rect x="316.6" y="263.2" width="59.4" height="38.5" fill="#fff" stroke="#9a9a9a" stroke-width="1"/>
<rect x="388.6" y="263.2" width="58.9" height="38.5" fill="#fff" stroke="#9a9a9a" stroke-width="1"/>
<rect x="459.3" y="263.2" width="58.2" height="38.5" fill="#fff" stroke="#9a9a9a" stroke-width="1"/>
<rect x="244.2" y="322.3" width="59.3" height="37.7" fill="#fff" stroke="#9a9a9a" stroke-width="1"/>
<rect x="316.6" y="322.3" width="59.4" height="37.7" fill="#fff" stroke="#9a9a9a" stroke-width="1"/>
<rect x="388.6" y="322.3" width="58.9" height="37.7" fill="#fff" stroke="#9a9a9a" stroke-width="1"/>
<rect x="459.3" y="322.3" width="58.2" height="37.7" fill="#fff" stroke="#9a9a9a" stroke-width="1"/>
<path d="M245.00,300.65 L245.50,300.63 L246.00,300.61 L246.50,300.57 L247.00,300.51 L247.50,300.43 L248.00,300.31 L248.50,300.15 L249.00,299.97 L249.50,299.60 L250.00,299.25 L250.50,298.62 L251.00,297.91 L251.50,297.54 L252.00,296.63 L252.50,294.59 L253.00,293.77 L253.50,292.21 L254.00,289.72 L254.50,288.40 L255.00,286.13 L255.50,284.61 L256.00,282.64 L256.50,281.50 L257.00,279.64 L257.50,278.35 L258.00,278.01 L258.50,277.52 L259.00,278.00 L259.50,279.91 L260.00,281.23 L260.50,283.90 L261.00,286.89 L261.50,289.83 L262.00,291.42 L262.50,293.87 L263.00,295.27 L263.50,296.35 L264.00,297.43 L264.50,297.92 L265.00,298.61 L265.50,298.62 L266.00,298.91 L266.50,298.75 L267.00,298.81 L267.50,299.16 L268.00,299.15 L268.50,299.12 L269.00,298.82 L269.50,299.06 L270.00,299.00 L270.50,299.16 L271.00,299.11 L271.50,299.20 L272.00,299.26 L272.50,299.22 L273.00,299.27 L273.50,299.22 L274.00,299.36 L274.50,299.35 L275.00,299.44 L275.50,299.47 L276.00,299.62 L276.50,299.81 L277.00,299.72 L277.50,299.76 L278.00,299.84 L278.50,299.97 L279.00,300.00 L279.50,300.14 L280.00,300.15 L280.50,300.20 L281.00,300.25 L281.50,300.29 L282.00,300.33 L282.50,300.37 L283.00,300.41 L283.50,300.44 L284.00,300.47 L284.50,300.50 L285.00,300.52 L285.50,300.54 L286.00,300.56 L286.50,300.58 L287.00,300.60 L287.50,300.61 L288.00,300.63 L288.50,300.64 L289.00,300.65 L289.50,300.65 L290.00,300.66 L290.50,300.67 L291.00,300.67 L291.50,300.68 L292.00,300.68 L292.50,300.68 L293.00,300.69 L293.50,300.69 L294.00,300.69 L294.50,300.69 L295.00,300.69 L295.50,300.70 L296.00,300.70 L296.50,300.70 L297.00,300.70 L297.50,300.70 L298.00,300.70 L298.50,300.70 L299.00,300.70 L299.50,300.70 L300.00,300.70 L300.50,300.70 L301.00,300.70 L301.50,300.70 L302.00,300.70 L302.50,300.70 L302.50,301.3 L245.00,301.3 Z" fill="#9a18c8" stroke="none"/>
<path d="M245.00,299.22 L245.50,298.71 L246.00,298.26 L246.50,297.61 L247.00,296.34 L247.50,295.22 L248.00,293.30 L248.50,292.17 L249.00,290.03 L249.50,287.77 L250.00,285.08 L250.50,283.17 L251.00,281.01 L251.50,278.06 L252.00,275.99 L252.50,274.44 L253.00,271.99 L253.50,270.66 L254.00,270.09 L254.50,269.72 L255.00,271.08 L255.50,272.46 L256.00,275.13 L256.50,278.93 L257.00,283.00 L257.50,287.22 L258.00,290.25 L258.50,292.96 L259.00,294.95 L259.50,296.73 L260.00,298.51 L260.50,299.21 L261.00,299.98 L261.50,300.27 L262.00,300.47 L262.50,300.58 L263.00,300.64 L263.50,300.67 L264.00,300.69 L264.50,300.69 L265.00,300.70 L265.50,300.70 L266.00,300.70 L266.50,300.70 L267.00,300.70 L267.50,300.70 L268.00,300.70 L268.50,300.70 L269.00,300.70 L269.50,300.70 L270.00,300.70 L270.50,300.70 L271.00,300.70 L271.50,300.70 L272.00,300.70 L272.50,300.70 L273.00,300.70 L273.50,300.70 L274.00,300.70 L274.50,300.70 L275.00,300.70 L275.50,300.70 L276.00,300.70 L276.50,300.70 L277.00,300.70 L277.50,300.70 L278.00,300.70 L278.50,300.70 L279.00,300.70 L279.50,300.70 L280.00,300.70 L280.50,300.70 L281.00,300.70 L281.50,300.70 L282.00,300.70 L282.50,300.70 L283.00,300.70 L283.50,300.70 L284.00,300.70 L284.50,300.70 L285.00,300.70 L285.50,300.70 L286.00,300.70 L286.50,300.70 L287.00,300.70 L287.50,300.70 L288.00,300.70 L288.50,300.70 L289.00,300.70 L289.50,300.70 L290.00,300.70 L290.50,300.70 L291.00,300.70 L291.50,300.70 L292.00,300.70 L292.50,300.70 L293.00,300.70 L293.50,300.70 L294.00,300.70 L294.50,300.70 L295.00,300.70 L295.50,300.70 L296.00,300.70 L296.50,300.70 L297.00,300.70 L297.50,300.70 L298.00,300.70 L298.50,300.70 L299.00,300.70 L299.50,300.70 L300.00,300.70 L300.50,300.70 L301.00,300.70 L301.50,300.70 L302.00,300.70 L302.50,300.70 L302.50,301.3 L245.00,301.3 Z" fill="#5b0fd2" stroke="#1e0448" stroke-width="0.85"/>
<path d="M245.00,300.70 L245.50,300.70 L246.00,300.70 L246.50,300.69 L247.00,300.69 L247.50,300.69 L248.00,300.69 L248.50,300.68 L249.00,300.68 L249.50,300.67 L250.00,300.66 L250.50,300.65 L251.00,300.64 L251.50,300.63 L252.00,300.61 L252.50,300.59 L253.00,300.55 L253.50,300.49 L254.00,300.36 L254.50,300.16 L255.00,299.36 L255.50,297.92 L256.00,296.39 L256.50,292.42 L257.00,288.64 L257.50,282.90 L258.00,276.82 L258.50,273.12 L259.00,270.76 L259.50,270.76 L260.00,273.86 L260.50,278.11 L261.00,284.08 L261.50,289.28 L262.00,293.07 L262.50,295.75 L263.00,296.86 L263.50,298.63 L264.00,298.49 L264.50,298.46 L265.00,298.61 L265.50,298.98 L266.00,298.96 L266.50,298.80 L267.00,299.05 L267.50,298.38 L268.00,298.55 L268.50,298.55 L269.00,298.71 L269.50,298.55 L270.00,299.00 L270.50,299.28 L271.00,299.18 L271.50,299.22 L272.00,299.13 L272.50,299.61 L273.00,299.34 L273.50,299.65 L274.00,299.86 L274.50,299.75 L275.00,299.77 L275.50,299.94 L276.00,300.00 L276.50,300.13 L277.00,300.20 L277.50,300.27 L278.00,300.33 L278.50,300.38 L279.00,300.43 L279.50,300.47 L280.00,300.51 L280.50,300.54 L281.00,300.57 L281.50,300.59 L282.00,300.61 L282.50,300.63 L283.00,300.64 L283.50,300.65 L284.00,300.66 L284.50,300.67 L285.00,300.68 L285.50,300.68 L286.00,300.69 L286.50,300.69 L287.00,300.69 L287.50,300.69 L288.00,300.70 L288.50,300.70 L289.00,300.70 L289.50,300.70 L290.00,300.70 L290.50,300.70 L291.00,300.70 L291.50,300.70 L292.00,300.70 L292.50,300.70 L293.00,300.70 L293.50,300.70 L294.00,300.70 L294.50,300.70 L295.00,300.70 L295.50,300.70 L296.00,300.70 L296.50,300.70 L297.00,300.70 L297.50,300.70 L298.00,300.70 L298.50,300.70 L299.00,300.70 L299.50,300.70 L300.00,300.70 L300.50,300.70 L301.00,300.70 L301.50,300.70 L302.00,300.70 L302.50,300.70" fill="none" stroke="#36b536" stroke-width="1.15" stroke-linejoin="round"/>
<path d="M245.00,300.64 L245.50,300.62 L246.00,300.59 L246.50,300.55 L247.00,300.48 L247.50,300.38 L248.00,300.24 L248.50,300.15 L249.00,299.75 L249.50,299.20 L250.00,299.04 L250.50,298.28 L251.00,297.66 L251.50,296.20 L252.00,295.08 L252.50,293.77 L253.00,291.60 L253.50,290.12 L254.00,288.58 L254.50,286.36 L255.00,283.77 L255.50,281.47 L256.00,280.01 L256.50,277.27 L257.00,276.16 L257.50,274.46 L258.00,274.61 L258.50,273.97 L259.00,274.87 L259.50,275.84 L260.00,278.44 L260.50,281.25 L261.00,284.61 L261.50,286.87 L262.00,290.02 L262.50,292.85 L263.00,294.58 L263.50,296.47 L264.00,296.49 L264.50,297.32 L265.00,298.11 L265.50,298.70 L266.00,298.23 L266.50,298.84 L267.00,298.98 L267.50,298.74 L268.00,298.78 L268.50,298.45 L269.00,298.96 L269.50,299.04 L270.00,298.80 L270.50,299.10 L271.00,298.73 L271.50,298.89 L272.00,298.70 L272.50,298.73 L273.00,299.21 L273.50,298.96 L274.00,299.19 L274.50,299.04 L275.00,299.54 L275.50,299.43 L276.00,299.28 L276.50,299.74 L277.00,299.71 L277.50,299.78 L278.00,299.83 L278.50,299.71 L279.00,300.01 L279.50,299.91 L280.00,300.10 L280.50,300.11 L281.00,300.17 L281.50,300.22 L282.00,300.27 L282.50,300.31 L283.00,300.36 L283.50,300.39 L284.00,300.43 L284.50,300.46 L285.00,300.49 L285.50,300.52 L286.00,300.54 L286.50,300.56 L287.00,300.58 L287.50,300.60 L288.00,300.61 L288.50,300.62 L289.00,300.64 L289.50,300.65 L290.00,300.65 L290.50,300.66 L291.00,300.67 L291.50,300.67 L292.00,300.68 L292.50,300.68 L293.00,300.68 L293.50,300.69 L294.00,300.69 L294.50,300.69 L295.00,300.69 L295.50,300.69 L296.00,300.70 L296.50,300.70 L297.00,300.70 L297.50,300.70 L298.00,300.70 L298.50,300.70 L299.00,300.70 L299.50,300.70 L300.00,300.70 L300.50,300.70 L301.00,300.70 L301.50,300.70 L302.00,300.70 L302.50,300.70" fill="none" stroke="#e2268e" stroke-width="1.15" stroke-linejoin="round"/>
<path d="M245.00,300.70 L245.50,300.70 L246.00,300.70 L246.50,300.70 L247.00,300.69 L247.50,300.69 L248.00,300.68 L248.50,300.68 L249.00,300.66 L249.50,300.65 L250.00,300.62 L250.50,300.58 L251.00,300.52 L251.50,300.44 L252.00,300.33 L252.50,300.18 L253.00,299.89 L253.50,299.72 L254.00,299.57 L254.50,299.22 L255.00,298.66 L255.50,297.58 L256.00,296.77 L256.50,296.76 L257.00,295.85 L257.50,295.00 L258.00,293.50 L258.50,293.34 L259.00,292.75 L259.50,291.79 L260.00,291.90 L260.50,290.74 L261.00,290.98 L261.50,289.90 L262.00,290.54 L262.50,290.10 L263.00,291.28 L263.50,292.02 L264.00,291.57 L264.50,292.31 L265.00,294.07 L265.50,293.16 L266.00,293.71 L266.50,293.90 L267.00,294.61 L267.50,294.50 L268.00,294.60 L268.50,295.17 L269.00,295.61 L269.50,294.67 L270.00,294.30 L270.50,295.51 L271.00,294.72 L271.50,295.06 L272.00,295.28 L272.50,294.97 L273.00,295.24 L273.50,295.14 L274.00,295.81 L274.50,295.93 L275.00,295.87 L275.50,296.55 L276.00,295.63 L276.50,296.76 L277.00,295.47 L277.50,296.17 L278.00,295.84 L278.50,294.49 L279.00,295.02 L279.50,295.87 L280.00,295.86 L280.50,297.06 L281.00,297.22 L281.50,298.19 L282.00,298.55 L282.50,299.02 L283.00,298.92 L283.50,299.30 L284.00,299.21 L284.50,299.37 L285.00,299.31 L285.50,299.61 L286.00,299.47 L286.50,299.79 L287.00,299.57 L287.50,299.89 L288.00,299.83 L288.50,299.99 L289.00,299.85 L289.50,300.04 L290.00,300.13 L290.50,300.05 L291.00,300.14 L291.50,300.18 L292.00,300.23 L292.50,300.27 L293.00,300.31 L293.50,300.34 L294.00,300.38 L294.50,300.41 L295.00,300.44 L295.50,300.47 L296.00,300.49 L296.50,300.52 L297.00,300.54 L297.50,300.56 L298.00,300.57 L298.50,300.59 L299.00,300.60 L299.50,300.62 L300.00,300.63 L300.50,300.64 L301.00,300.65 L301.50,300.65 L302.00,300.66 L302.50,300.67" fill="none" stroke="#2a9fe0" stroke-width="1.2" stroke-linejoin="round"/>
<line x1="244.79999999999998" y1="264.2" x2="244.79999999999998" y2="300.7" stroke="#2a9fe0" stroke-width="0.9"/>
<path d="M317.40,300.70 L317.90,300.70 L318.40,300.70 L318.90,300.70 L319.40,300.70 L319.90,300.69 L320.40,300.69 L320.90,300.68 L321.40,300.66 L321.90,300.63 L322.40,300.57 L322.90,300.49 L323.40,300.35 L323.90,300.14 L324.40,299.89 L324.90,299.53 L325.40,298.85 L325.90,298.23 L326.40,297.36 L326.90,295.75 L327.40,293.67 L327.90,291.98 L328.40,290.00 L328.90,288.39 L329.40,285.90 L329.90,284.07 L330.40,282.31 L330.90,280.87 L331.40,279.72 L331.90,278.50 L332.40,278.80 L332.90,279.96 L333.40,281.87 L333.90,284.89 L334.40,287.43 L334.90,289.72 L335.40,291.97 L335.90,293.82 L336.40,295.34 L336.90,297.26 L337.40,297.59 L337.90,298.10 L338.40,298.56 L338.90,298.96 L339.40,298.99 L339.90,299.28 L340.40,299.10 L340.90,299.26 L341.40,299.50 L341.90,299.69 L342.40,299.68 L342.90,299.88 L343.40,299.95 L343.90,300.13 L344.40,300.23 L344.90,300.32 L345.40,300.39 L345.90,300.46 L346.40,300.51 L346.90,300.56 L347.40,300.59 L347.90,300.62 L348.40,300.64 L348.90,300.66 L349.40,300.67 L349.90,300.68 L350.40,300.69 L350.90,300.69 L351.40,300.69 L351.90,300.70 L352.40,300.70 L352.90,300.70 L353.40,300.70 L353.90,300.70 L354.40,300.70 L354.90,300.70 L355.40,300.70 L355.90,300.70 L356.40,300.70 L356.90,300.70 L357.40,300.70 L357.90,300.70 L358.40,300.70 L358.90,300.70 L359.40,300.70 L359.90,300.70 L360.40,300.70 L360.90,300.70 L361.40,300.70 L361.90,300.70 L362.40,300.70 L362.90,300.70 L363.40,300.70 L363.90,300.70 L364.40,300.70 L364.90,300.70 L365.40,300.70 L365.90,300.70 L366.40,300.70 L366.90,300.70 L367.40,300.70 L367.90,300.70 L368.40,300.70 L368.90,300.70 L369.40,300.70 L369.90,300.70 L370.40,300.70 L370.90,300.70 L371.40,300.70 L371.90,300.70 L372.40,300.70 L372.90,300.70 L373.40,300.70 L373.90,300.70 L374.40,300.70 L374.90,300.70 L374.90,301.3 L317.40,301.3 Z" fill="#9a18c8" stroke="none"/>
<path d="M317.40,300.63 L317.90,300.58 L318.40,300.50 L318.90,300.38 L319.40,300.19 L319.90,300.00 L320.40,299.40 L320.90,298.82 L321.40,298.38 L321.90,297.19 L322.40,295.94 L322.90,294.07 L323.40,291.94 L323.90,290.48 L324.40,287.95 L324.90,284.15 L325.40,281.67 L325.90,278.32 L326.40,276.43 L326.90,273.41 L327.40,271.07 L327.90,270.27 L328.40,268.73 L328.90,268.93 L329.40,271.22 L329.90,273.47 L330.40,275.86 L330.90,278.87 L331.40,283.20 L331.90,286.96 L332.40,289.97 L332.90,293.24 L333.40,295.30 L333.90,296.83 L334.40,298.09 L334.90,299.16 L335.40,299.75 L335.90,300.14 L336.40,300.35 L336.90,300.51 L337.40,300.60 L337.90,300.65 L338.40,300.67 L338.90,300.69 L339.40,300.69 L339.90,300.70 L340.40,300.70 L340.90,300.70 L341.40,300.70 L341.90,300.70 L342.40,300.70 L342.90,300.70 L343.40,300.70 L343.90,300.70 L344.40,300.70 L344.90,300.70 L345.40,300.70 L345.90,300.70 L346.40,300.70 L346.90,300.70 L347.40,300.70 L347.90,300.70 L348.40,300.70 L348.90,300.70 L349.40,300.70 L349.90,300.70 L350.40,300.70 L350.90,300.70 L351.40,300.70 L351.90,300.70 L352.40,300.70 L352.90,300.70 L353.40,300.70 L353.90,300.70 L354.40,300.70 L354.90,300.70 L355.40,300.70 L355.90,300.70 L356.40,300.70 L356.90,300.70 L357.40,300.70 L357.90,300.70 L358.40,300.70 L358.90,300.70 L359.40,300.70 L359.90,300.70 L360.40,300.70 L360.90,300.70 L361.40,300.70 L361.90,300.70 L362.40,300.70 L362.90,300.70 L363.40,300.70 L363.90,300.70 L364.40,300.70 L364.90,300.70 L365.40,300.70 L365.90,300.70 L366.40,300.70 L366.90,300.70 L367.40,300.70 L367.90,300.70 L368.40,300.70 L368.90,300.70 L369.40,300.70 L369.90,300.70 L370.40,300.70 L370.90,300.70 L371.40,300.70 L371.90,300.70 L372.40,300.70 L372.90,300.70 L373.40,300.70 L373.90,300.70 L374.40,300.70 L374.90,300.70 L374.90,301.3 L317.40,301.3 Z" fill="#5b0fd2" stroke="#1e0448" stroke-width="0.85"/>
<path d="M317.40,300.70 L317.90,300.70 L318.40,300.70 L318.90,300.70 L319.40,300.70 L319.90,300.69 L320.40,300.69 L320.90,300.68 L321.40,300.66 L321.90,300.63 L322.40,300.58 L322.90,300.50 L323.40,300.37 L323.90,300.17 L324.40,299.81 L324.90,299.26 L325.40,298.69 L325.90,297.66 L326.40,297.48 L326.90,295.52 L327.40,294.08 L327.90,292.37 L328.40,289.35 L328.90,287.72 L329.40,284.36 L329.90,282.81 L330.40,280.33 L330.90,278.16 L331.40,276.76 L331.90,276.99 L332.40,275.91 L332.90,277.77 L333.40,279.46 L333.90,282.58 L334.40,285.00 L334.90,288.71 L335.40,291.58 L335.90,293.52 L336.40,295.54 L336.90,296.76 L337.40,297.72 L337.90,298.20 L338.40,298.48 L338.90,298.73 L339.40,299.13 L339.90,299.25 L340.40,299.38 L340.90,299.60 L341.40,299.55 L341.90,299.89 L342.40,299.75 L342.90,300.00 L343.40,300.04 L343.90,300.19 L344.40,300.28 L344.90,300.36 L345.40,300.43 L345.90,300.49 L346.40,300.53 L346.90,300.57 L347.40,300.61 L347.90,300.63 L348.40,300.65 L348.90,300.66 L349.40,300.67 L349.90,300.68 L350.40,300.69 L350.90,300.69 L351.40,300.69 L351.90,300.70 L352.40,300.70 L352.90,300.70 L353.40,300.70 L353.90,300.70 L354.40,300.70 L354.90,300.70 L355.40,300.70 L355.90,300.70 L356.40,300.70 L356.90,300.70 L357.40,300.70 L357.90,300.70 L358.40,300.70 L358.90,300.70 L359.40,300.70 L359.90,300.70 L360.40,300.70 L360.90,300.70 L361.40,300.70 L361.90,300.70 L362.40,300.70 L362.90,300.70 L363.40,300.70 L363.90,300.70 L364.40,300.70 L364.90,300.70 L365.40,300.70 L365.90,300.70 L366.40,300.70 L366.90,300.70 L367.40,300.70 L367.90,300.70 L368.40,300.70 L368.90,300.70 L369.40,300.70 L369.90,300.70 L370.40,300.70 L370.90,300.70 L371.40,300.70 L371.90,300.70 L372.40,300.70 L372.90,300.70 L373.40,300.70 L373.90,300.70 L374.40,300.70 L374.90,300.70" fill="none" stroke="#36b536" stroke-width="1.15" stroke-linejoin="round"/>
<path d="M317.40,300.70 L317.90,300.70 L318.40,300.70 L318.90,300.70 L319.40,300.70 L319.90,300.69 L320.40,300.69 L320.90,300.67 L321.40,300.65 L321.90,300.61 L322.40,300.55 L322.90,300.45 L323.40,300.29 L323.90,300.09 L324.40,299.68 L324.90,299.14 L325.40,298.49 L325.90,297.42 L326.40,296.31 L326.90,294.74 L327.40,293.34 L327.90,291.34 L328.40,288.76 L328.90,285.50 L329.40,283.99 L329.90,281.08 L330.40,278.79 L330.90,276.84 L331.40,275.78 L331.90,274.59 L332.40,274.71 L332.90,276.56 L333.40,279.31 L333.90,281.22 L334.40,284.36 L334.90,287.98 L335.40,290.28 L335.90,292.48 L336.40,294.21 L336.90,296.57 L337.40,297.49 L337.90,297.46 L338.40,298.39 L338.90,298.65 L339.40,299.00 L339.90,298.67 L340.40,299.15 L340.90,299.33 L341.40,299.24 L341.90,299.64 L342.40,299.50 L342.90,299.89 L343.40,299.76 L343.90,300.11 L344.40,300.14 L344.90,300.25 L345.40,300.34 L345.90,300.42 L346.40,300.48 L346.90,300.53 L347.40,300.57 L347.90,300.61 L348.40,300.63 L348.90,300.65 L349.40,300.67 L349.90,300.68 L350.40,300.68 L350.90,300.69 L351.40,300.69 L351.90,300.70 L352.40,300.70 L352.90,300.70 L353.40,300.70 L353.90,300.70 L354.40,300.70 L354.90,300.70 L355.40,300.70 L355.90,300.70 L356.40,300.70 L356.90,300.70 L357.40,300.70 L357.90,300.70 L358.40,300.70 L358.90,300.70 L359.40,300.70 L359.90,300.70 L360.40,300.70 L360.90,300.70 L361.40,300.70 L361.90,300.70 L362.40,300.70 L362.90,300.70 L363.40,300.70 L363.90,300.70 L364.40,300.70 L364.90,300.70 L365.40,300.70 L365.90,300.70 L366.40,300.70 L366.90,300.70 L367.40,300.70 L367.90,300.70 L368.40,300.70 L368.90,300.70 L369.40,300.70 L369.90,300.70 L370.40,300.70 L370.90,300.70 L371.40,300.70 L371.90,300.70 L372.40,300.70 L372.90,300.70 L373.40,300.70 L373.90,300.70 L374.40,300.70 L374.90,300.70" fill="none" stroke="#e2268e" stroke-width="1.15" stroke-linejoin="round"/>
<path d="M317.40,300.69 L317.90,300.69 L318.40,300.69 L318.90,300.68 L319.40,300.67 L319.90,300.66 L320.40,300.63 L320.90,300.60 L321.40,300.55 L321.90,300.47 L322.40,300.36 L322.90,300.21 L323.40,300.00 L323.90,299.71 L324.40,299.52 L324.90,298.60 L325.40,297.96 L325.90,297.10 L326.40,296.35 L326.90,294.90 L327.40,293.26 L327.90,292.03 L328.40,290.89 L328.90,288.42 L329.40,287.51 L329.90,286.18 L330.40,284.42 L330.90,282.76 L331.40,281.20 L331.90,281.21 L332.40,280.41 L332.90,281.10 L333.40,282.26 L333.90,282.32 L334.40,284.63 L334.90,286.65 L335.40,288.12 L335.90,290.39 L336.40,290.51 L336.90,292.12 L337.40,291.76 L337.90,293.28 L338.40,293.27 L338.90,293.99 L339.40,294.18 L339.90,295.69 L340.40,296.48 L340.90,296.87 L341.40,297.82 L341.90,297.52 L342.40,298.57 L342.90,298.66 L343.40,298.67 L343.90,299.04 L344.40,298.55 L344.90,299.00 L345.40,298.85 L345.90,299.09 L346.40,299.08 L346.90,298.87 L347.40,298.85 L347.90,298.84 L348.40,298.80 L348.90,298.86 L349.40,299.18 L349.90,299.46 L350.40,299.44 L350.90,299.15 L351.40,299.18 L351.90,299.44 L352.40,299.73 L352.90,299.68 L353.40,299.58 L353.90,299.84 L354.40,299.87 L354.90,299.88 L355.40,299.87 L355.90,299.93 L356.40,300.07 L356.90,300.10 L357.40,300.16 L357.90,300.21 L358.40,300.26 L358.90,300.30 L359.40,300.34 L359.90,300.38 L360.40,300.42 L360.90,300.45 L361.40,300.48 L361.90,300.51 L362.40,300.53 L362.90,300.55 L363.40,300.57 L363.90,300.59 L364.40,300.60 L364.90,300.62 L365.40,300.63 L365.90,300.64 L366.40,300.65 L366.90,300.66 L367.40,300.66 L367.90,300.67 L368.40,300.68 L368.90,300.68 L369.40,300.68 L369.90,300.69 L370.40,300.69 L370.90,300.69 L371.40,300.69 L371.90,300.69 L372.40,300.69 L372.90,300.70 L373.40,300.70 L373.90,300.70 L374.40,300.70 L374.90,300.70" fill="none" stroke="#2a9fe0" stroke-width="1.2" stroke-linejoin="round"/>
<line x1="317.20000000000005" y1="264.2" x2="317.20000000000005" y2="300.7" stroke="#2a9fe0" stroke-width="0.9"/>
<path d="M389.40,300.30 L389.90,300.25 L390.40,300.20 L390.90,300.15 L391.40,300.07 L391.90,299.98 L392.40,299.90 L392.90,299.80 L393.40,299.76 L393.90,299.62 L394.40,299.76 L394.90,299.54 L395.40,299.25 L395.90,299.17 L396.40,298.83 L396.90,298.89 L397.40,298.29 L397.90,297.88 L398.40,296.86 L398.90,295.79 L399.40,295.02 L399.90,293.17 L400.40,291.15 L400.90,288.27 L401.40,285.99 L401.90,284.08 L402.40,281.00 L402.90,279.47 L403.40,277.22 L403.90,276.52 L404.40,276.15 L404.90,275.50 L405.40,277.11 L405.90,278.67 L406.40,279.96 L406.90,282.45 L407.40,285.55 L407.90,287.38 L408.40,290.14 L408.90,292.09 L409.40,294.34 L409.90,295.07 L410.40,296.48 L410.90,297.19 L411.40,297.97 L411.90,298.80 L412.40,299.11 L412.90,299.42 L413.40,299.60 L413.90,299.75 L414.40,299.79 L414.90,299.82 L415.40,300.02 L415.90,299.96 L416.40,300.09 L416.90,300.12 L417.40,300.18 L417.90,300.23 L418.40,300.28 L418.90,300.33 L419.40,300.37 L419.90,300.41 L420.40,300.44 L420.90,300.47 L421.40,300.50 L421.90,300.53 L422.40,300.55 L422.90,300.57 L423.40,300.59 L423.90,300.60 L424.40,300.62 L424.90,300.63 L425.40,300.64 L425.90,300.65 L426.40,300.66 L426.90,300.66 L427.40,300.67 L427.90,300.68 L428.40,300.68 L428.90,300.68 L429.40,300.69 L429.90,300.69 L430.40,300.69 L430.90,300.69 L431.40,300.69 L431.90,300.70 L432.40,300.70 L432.90,300.70 L433.40,300.70 L433.90,300.70 L434.40,300.70 L434.90,300.70 L435.40,300.70 L435.90,300.70 L436.40,300.70 L436.90,300.70 L437.40,300.70 L437.90,300.70 L438.40,300.70 L438.90,300.70 L439.40,300.70 L439.90,300.70 L440.40,300.70 L440.90,300.70 L441.40,300.70 L441.90,300.70 L442.40,300.70 L442.90,300.70 L443.40,300.70 L443.90,300.70 L444.40,300.70 L444.90,300.70 L445.40,300.70 L445.90,300.70 L446.40,300.70 L446.40,301.3 L389.40,301.3 Z" fill="#9a18c8" stroke="none"/>
<path d="M389.40,300.25 L389.90,300.18 L390.40,300.11 L390.90,299.93 L391.40,299.84 L391.90,299.96 L392.40,299.86 L392.90,299.51 L393.40,299.40 L393.90,299.26 L394.40,299.23 L394.90,298.85 L395.40,298.53 L395.90,298.13 L396.40,297.95 L396.90,296.96 L397.40,295.99 L397.90,294.27 L398.40,292.26 L398.90,290.24 L399.40,288.26 L399.90,285.58 L400.40,282.74 L400.90,279.87 L401.40,276.83 L401.90,273.57 L402.40,271.55 L402.90,269.99 L403.40,268.75 L403.90,269.63 L404.40,271.31 L404.90,274.48 L405.40,278.24 L405.90,281.71 L406.40,285.71 L406.90,288.70 L407.40,291.04 L407.90,293.77 L408.40,296.13 L408.90,296.61 L409.40,297.69 L409.90,298.41 L410.40,298.77 L410.90,299.17 L411.40,299.39 L411.90,299.71 L412.40,299.68 L412.90,299.82 L413.40,300.10 L413.90,300.12 L414.40,300.21 L414.90,300.28 L415.40,300.35 L415.90,300.40 L416.40,300.45 L416.90,300.50 L417.40,300.53 L417.90,300.56 L418.40,300.59 L418.90,300.61 L419.40,300.63 L419.90,300.64 L420.40,300.66 L420.90,300.66 L421.40,300.67 L421.90,300.68 L422.40,300.68 L422.90,300.69 L423.40,300.69 L423.90,300.69 L424.40,300.69 L424.90,300.70 L425.40,300.70 L425.90,300.70 L426.40,300.70 L426.90,300.70 L427.40,300.70 L427.90,300.70 L428.40,300.70 L428.90,300.70 L429.40,300.70 L429.90,300.70 L430.40,300.70 L430.90,300.70 L431.40,300.70 L431.90,300.70 L432.40,300.70 L432.90,300.70 L433.40,300.70 L433.90,300.70 L434.40,300.70 L434.90,300.70 L435.40,300.70 L435.90,300.70 L436.40,300.70 L436.90,300.70 L437.40,300.70 L437.90,300.70 L438.40,300.70 L438.90,300.70 L439.40,300.70 L439.90,300.70 L440.40,300.70 L440.90,300.70 L441.40,300.70 L441.90,300.70 L442.40,300.70 L442.90,300.70 L443.40,300.70 L443.90,300.70 L444.40,300.70 L444.90,300.70 L445.40,300.70 L445.90,300.70 L446.40,300.70 L446.40,301.3 L389.40,301.3 Z" fill="#5b0fd2" stroke="#1e0448" stroke-width="0.85"/>
<path d="M389.40,300.48 L389.90,300.45 L390.40,300.42 L390.90,300.38 L391.40,300.35 L391.90,300.31 L392.40,300.27 L392.90,300.22 L393.40,300.17 L393.90,300.12 L394.40,300.03 L394.90,300.11 L395.40,300.03 L395.90,299.82 L396.40,299.79 L396.90,299.41 L397.40,299.20 L397.90,298.77 L398.40,298.54 L398.90,297.39 L399.40,296.58 L399.90,294.78 L400.40,293.62 L400.90,290.95 L401.40,288.31 L401.90,285.19 L402.40,281.84 L402.90,278.44 L403.40,275.73 L403.90,273.20 L404.40,271.23 L404.90,269.95 L405.40,270.35 L405.90,271.67 L406.40,274.12 L406.90,277.07 L407.40,281.53 L407.90,284.66 L408.40,287.66 L408.90,291.39 L409.40,292.73 L409.90,294.90 L410.40,296.87 L410.90,298.24 L411.40,298.83 L411.90,299.30 L412.40,299.48 L412.90,299.68 L413.40,299.85 L413.90,299.85 L414.40,299.84 L414.90,299.94 L415.40,300.02 L415.90,300.10 L416.40,300.16 L416.90,300.20 L417.40,300.25 L417.90,300.29 L418.40,300.33 L418.90,300.37 L419.40,300.40 L419.90,300.44 L420.40,300.46 L420.90,300.49 L421.40,300.52 L421.90,300.54 L422.40,300.56 L422.90,300.58 L423.40,300.59 L423.90,300.61 L424.40,300.62 L424.90,300.63 L425.40,300.64 L425.90,300.65 L426.40,300.66 L426.90,300.66 L427.40,300.67 L427.90,300.68 L428.40,300.68 L428.90,300.68 L429.40,300.69 L429.90,300.69 L430.40,300.69 L430.90,300.69 L431.40,300.69 L431.90,300.69 L432.40,300.70 L432.90,300.70 L433.40,300.70 L433.90,300.70 L434.40,300.70 L434.90,300.70 L435.40,300.70 L435.90,300.70 L436.40,300.70 L436.90,300.70 L437.40,300.70 L437.90,300.70 L438.40,300.70 L438.90,300.70 L439.40,300.70 L439.90,300.70 L440.40,300.70 L440.90,300.70 L441.40,300.70 L441.90,300.70 L442.40,300.70 L442.90,300.70 L443.40,300.70 L443.90,300.70 L444.40,300.70 L444.90,300.70 L445.40,300.70 L445.90,300.70 L446.40,300.70" fill="none" stroke="#36b536" stroke-width="1.15" stroke-linejoin="round"/>
<path d="M389.40,300.23 L389.90,300.17 L390.40,300.11 L390.90,299.96 L391.40,299.97 L391.90,300.01 L392.40,299.94 L392.90,299.80 L393.40,299.51 L393.90,299.38 L394.40,299.51 L394.90,299.34 L395.40,299.18 L395.90,298.70 L396.40,298.73 L396.90,298.49 L397.40,297.83 L397.90,297.77 L398.40,296.21 L398.90,295.53 L399.40,292.99 L399.90,291.59 L400.40,288.56 L400.90,286.68 L401.40,284.02 L401.90,280.05 L402.40,277.35 L402.90,275.99 L403.40,272.54 L403.90,271.31 L404.40,270.62 L404.90,271.40 L405.40,272.27 L405.90,274.14 L406.40,277.10 L406.90,280.33 L407.40,282.36 L407.90,284.93 L408.40,288.87 L408.90,290.50 L409.40,292.88 L409.90,294.74 L410.40,295.68 L410.90,296.87 L411.40,297.49 L411.90,298.40 L412.40,298.78 L412.90,298.98 L413.40,299.41 L413.90,299.26 L414.40,299.75 L414.90,299.56 L415.40,299.90 L415.90,299.97 L416.40,299.81 L416.90,299.98 L417.40,300.13 L417.90,300.15 L418.40,300.21 L418.90,300.26 L419.40,300.31 L419.90,300.35 L420.40,300.39 L420.90,300.43 L421.40,300.47 L421.90,300.50 L422.40,300.52 L422.90,300.55 L423.40,300.57 L423.90,300.59 L424.40,300.60 L424.90,300.62 L425.40,300.63 L425.90,300.64 L426.40,300.65 L426.90,300.66 L427.40,300.67 L427.90,300.67 L428.40,300.68 L428.90,300.68 L429.40,300.68 L429.90,300.69 L430.40,300.69 L430.90,300.69 L431.40,300.69 L431.90,300.69 L432.40,300.70 L432.90,300.70 L433.40,300.70 L433.90,300.70 L434.40,300.70 L434.90,300.70 L435.40,300.70 L435.90,300.70 L436.40,300.70 L436.90,300.70 L437.40,300.70 L437.90,300.70 L438.40,300.70 L438.90,300.70 L439.40,300.70 L439.90,300.70 L440.40,300.70 L440.90,300.70 L441.40,300.70 L441.90,300.70 L442.40,300.70 L442.90,300.70 L443.40,300.70 L443.90,300.70 L444.40,300.70 L444.90,300.70 L445.40,300.70 L445.90,300.70 L446.40,300.70" fill="none" stroke="#e2268e" stroke-width="1.15" stroke-linejoin="round"/>
<path d="M389.40,300.15 L389.90,300.11 L390.40,299.91 L390.90,300.02 L391.40,299.92 L391.90,299.80 L392.40,299.77 L392.90,299.64 L393.40,299.27 L393.90,299.28 L394.40,299.33 L394.90,298.66 L395.40,298.84 L395.90,298.11 L396.40,298.42 L396.90,297.44 L397.40,297.04 L397.90,296.48 L398.40,295.36 L398.90,295.04 L399.40,294.89 L399.90,293.94 L400.40,293.68 L400.90,292.05 L401.40,291.53 L401.90,291.15 L402.40,289.65 L402.90,288.79 L403.40,289.17 L403.90,287.85 L404.40,287.61 L404.90,288.28 L405.40,287.43 L405.90,288.50 L406.40,288.97 L406.90,288.36 L407.40,288.82 L407.90,290.07 L408.40,290.16 L408.90,291.47 L409.40,291.87 L409.90,293.27 L410.40,294.04 L410.90,294.07 L411.40,295.23 L411.90,295.96 L412.40,295.91 L412.90,296.58 L413.40,296.99 L413.90,297.81 L414.40,297.53 L414.90,298.16 L415.40,298.68 L415.90,298.55 L416.40,298.73 L416.90,299.15 L417.40,299.27 L417.90,299.11 L418.40,299.22 L418.90,299.56 L419.40,299.45 L419.90,299.60 L420.40,299.54 L420.90,299.64 L421.40,299.93 L421.90,299.83 L422.40,300.04 L422.90,300.09 L423.40,300.10 L423.90,300.01 L424.40,300.15 L424.90,300.20 L425.40,300.24 L425.90,300.29 L426.40,300.33 L426.90,300.36 L427.40,300.40 L427.90,300.43 L428.40,300.46 L428.90,300.48 L429.40,300.51 L429.90,300.53 L430.40,300.55 L430.90,300.56 L431.40,300.58 L431.90,300.60 L432.40,300.61 L432.90,300.62 L433.40,300.63 L433.90,300.64 L434.40,300.65 L434.90,300.65 L435.40,300.66 L435.90,300.67 L436.40,300.67 L436.90,300.67 L437.40,300.68 L437.90,300.68 L438.40,300.68 L438.90,300.69 L439.40,300.69 L439.90,300.69 L440.40,300.69 L440.90,300.69 L441.40,300.69 L441.90,300.70 L442.40,300.70 L442.90,300.70 L443.40,300.70 L443.90,300.70 L444.40,300.70 L444.90,300.70 L445.40,300.70 L445.90,300.70 L446.40,300.70" fill="none" stroke="#2a9fe0" stroke-width="1.2" stroke-linejoin="round"/>
<line x1="389.20000000000005" y1="264.2" x2="389.20000000000005" y2="300.7" stroke="#2a9fe0" stroke-width="0.9"/>
<path d="M460.10,300.69 L460.60,300.68 L461.10,300.66 L461.60,300.64 L462.10,300.61 L462.60,300.56 L463.10,300.49 L463.60,300.39 L464.10,300.27 L464.60,300.11 L465.10,299.86 L465.60,299.60 L466.10,299.42 L466.60,299.22 L467.10,299.06 L467.60,298.44 L468.10,298.26 L468.60,297.81 L469.10,297.87 L469.60,297.39 L470.10,297.63 L470.60,297.03 L471.10,296.87 L471.60,296.84 L472.10,296.19 L472.60,295.23 L473.10,294.56 L473.60,292.65 L474.10,290.46 L474.60,288.74 L475.10,285.75 L475.60,283.44 L476.10,281.09 L476.60,279.89 L477.10,279.11 L477.60,278.20 L478.10,278.84 L478.60,280.64 L479.10,283.07 L479.60,285.45 L480.10,287.69 L480.60,290.66 L481.10,292.41 L481.60,294.85 L482.10,296.93 L482.60,297.83 L483.10,298.96 L483.60,299.45 L484.10,299.95 L484.60,300.31 L485.10,300.48 L485.60,300.58 L486.10,300.64 L486.60,300.67 L487.10,300.69 L487.60,300.69 L488.10,300.70 L488.60,300.70 L489.10,300.70 L489.60,300.70 L490.10,300.70 L490.60,300.70 L491.10,300.70 L491.60,300.70 L492.10,300.70 L492.60,300.70 L493.10,300.70 L493.60,300.70 L494.10,300.70 L494.60,300.70 L495.10,300.70 L495.60,300.70 L496.10,300.70 L496.60,300.70 L497.10,300.70 L497.60,300.70 L498.10,300.70 L498.60,300.70 L499.10,300.70 L499.60,300.70 L500.10,300.70 L500.60,300.70 L501.10,300.70 L501.60,300.70 L502.10,300.70 L502.60,300.70 L503.10,300.70 L503.60,300.70 L504.10,300.70 L504.60,300.70 L505.10,300.70 L505.60,300.70 L506.10,300.70 L506.60,300.70 L507.10,300.70 L507.60,300.70 L508.10,300.70 L508.60,300.70 L509.10,300.70 L509.60,300.70 L510.10,300.70 L510.60,300.70 L511.10,300.70 L511.60,300.70 L512.10,300.70 L512.60,300.70 L513.10,300.70 L513.60,300.70 L514.10,300.70 L514.60,300.70 L515.10,300.70 L515.60,300.70 L516.10,300.70 L516.60,300.70 L516.60,301.3 L460.10,301.3 Z" fill="#9a18c8" stroke="none"/>
<path d="M460.10,300.69 L460.60,300.68 L461.10,300.66 L461.60,300.64 L462.10,300.61 L462.60,300.56 L463.10,300.49 L463.60,300.39 L464.10,300.27 L464.60,300.11 L465.10,299.97 L465.60,299.66 L466.10,299.46 L466.60,299.07 L467.10,298.75 L467.60,298.80 L468.10,298.60 L468.60,297.72 L469.10,298.00 L469.60,297.88 L470.10,297.03 L470.60,297.40 L471.10,296.81 L471.60,296.82 L472.10,295.97 L472.60,295.47 L473.10,293.27 L473.60,290.77 L474.10,288.38 L474.60,284.87 L475.10,281.54 L475.60,279.06 L476.10,275.64 L476.60,274.26 L477.10,274.28 L477.60,275.39 L478.10,276.13 L478.60,279.09 L479.10,281.79 L479.60,284.80 L480.10,288.15 L480.60,290.79 L481.10,293.92 L481.60,295.46 L482.10,297.45 L482.60,298.26 L483.10,299.20 L483.60,299.99 L484.10,300.23 L484.60,300.44 L485.10,300.56 L485.60,300.63 L486.10,300.66 L486.60,300.68 L487.10,300.69 L487.60,300.70 L488.10,300.70 L488.60,300.70 L489.10,300.70 L489.60,300.70 L490.10,300.70 L490.60,300.70 L491.10,300.70 L491.60,300.70 L492.10,300.70 L492.60,300.70 L493.10,300.70 L493.60,300.70 L494.10,300.70 L494.60,300.70 L495.10,300.70 L495.60,300.70 L496.10,300.70 L496.60,300.70 L497.10,300.70 L497.60,300.70 L498.10,300.70 L498.60,300.70 L499.10,300.70 L499.60,300.70 L500.10,300.70 L500.60,300.70 L501.10,300.70 L501.60,300.70 L502.10,300.70 L502.60,300.70 L503.10,300.70 L503.60,300.70 L504.10,300.70 L504.60,300.70 L505.10,300.70 L505.60,300.70 L506.10,300.70 L506.60,300.70 L507.10,300.70 L507.60,300.70 L508.10,300.70 L508.60,300.70 L509.10,300.70 L509.60,300.70 L510.10,300.70 L510.60,300.70 L511.10,300.70 L511.60,300.70 L512.10,300.70 L512.60,300.70 L513.10,300.70 L513.60,300.70 L514.10,300.70 L514.60,300.70 L515.10,300.70 L515.60,300.70 L516.10,300.70 L516.60,300.70 L516.60,301.3 L460.10,301.3 Z" fill="#5b0fd2" stroke="#1e0448" stroke-width="0.85"/>
<path d="M460.10,300.70 L460.60,300.70 L461.10,300.70 L461.60,300.70 L462.10,300.70 L462.60,300.70 L463.10,300.70 L463.60,300.70 L464.10,300.70 L464.60,300.70 L465.10,300.70 L465.60,300.70 L466.10,300.70 L466.60,300.70 L467.10,300.70 L467.60,300.70 L468.10,300.70 L468.60,300.70 L469.10,300.70 L469.60,300.70 L470.10,300.70 L470.60,300.70 L471.10,300.69 L471.60,300.66 L472.10,300.55 L472.60,300.20 L473.10,299.45 L473.60,297.56 L474.10,292.74 L474.60,286.92 L475.10,279.29 L475.60,271.31 L476.10,265.78 L476.60,265.42 L477.10,267.87 L477.60,274.21 L478.10,280.53 L478.60,287.10 L479.10,291.72 L479.60,295.38 L480.10,298.22 L480.60,299.40 L481.10,300.22 L481.60,300.52 L482.10,300.64 L482.60,300.68 L483.10,300.69 L483.60,300.70 L484.10,300.70 L484.60,300.70 L485.10,300.70 L485.60,300.70 L486.10,300.70 L486.60,300.70 L487.10,300.70 L487.60,300.70 L488.10,300.70 L488.60,300.70 L489.10,300.70 L489.60,300.70 L490.10,300.70 L490.60,300.70 L491.10,300.70 L491.60,300.70 L492.10,300.70 L492.60,300.70 L493.10,300.70 L493.60,300.70 L494.10,300.70 L494.60,300.70 L495.10,300.70 L495.60,300.70 L496.10,300.70 L496.60,300.70 L497.10,300.70 L497.60,300.70 L498.10,300.70 L498.60,300.70 L499.10,300.70 L499.60,300.70 L500.10,300.70 L500.60,300.70 L501.10,300.70 L501.60,300.70 L502.10,300.70 L502.60,300.70 L503.10,300.70 L503.60,300.70 L504.10,300.70 L504.60,300.70 L505.10,300.70 L505.60,300.70 L506.10,300.70 L506.60,300.70 L507.10,300.70 L507.60,300.70 L508.10,300.70 L508.60,300.70 L509.10,300.70 L509.60,300.70 L510.10,300.70 L510.60,300.70 L511.10,300.70 L511.60,300.70 L512.10,300.70 L512.60,300.70 L513.10,300.70 L513.60,300.70 L514.10,300.70 L514.60,300.70 L515.10,300.70 L515.60,300.70 L516.10,300.70 L516.60,300.70" fill="none" stroke="#150020" stroke-width="1.1" stroke-linejoin="round"/>
<path d="M460.10,300.70 L460.60,300.70 L461.10,300.70 L461.60,300.70 L462.10,300.70 L462.60,300.70 L463.10,300.70 L463.60,300.70 L464.10,300.70 L464.60,300.70 L465.10,300.70 L465.60,300.70 L466.10,300.70 L466.60,300.70 L467.10,300.70 L467.60,300.70 L468.10,300.70 L468.60,300.70 L469.10,300.70 L469.60,300.70 L470.10,300.70 L470.60,300.70 L471.10,300.69 L471.60,300.67 L472.10,300.61 L472.60,300.48 L473.10,300.21 L473.60,299.51 L474.10,298.81 L474.60,297.06 L475.10,295.01 L475.60,290.39 L476.10,287.36 L476.60,282.07 L477.10,277.91 L477.60,274.57 L478.10,273.57 L478.60,274.02 L479.10,275.73 L479.60,279.00 L480.10,282.15 L480.60,285.96 L481.10,288.86 L481.60,292.51 L482.10,295.59 L482.60,297.61 L483.10,298.54 L483.60,299.13 L484.10,300.08 L484.60,300.30 L485.10,300.50 L485.60,300.60 L486.10,300.66 L486.60,300.68 L487.10,300.69 L487.60,300.70 L488.10,300.70 L488.60,300.70 L489.10,300.70 L489.60,300.70 L490.10,300.70 L490.60,300.70 L491.10,300.70 L491.60,300.70 L492.10,300.70 L492.60,300.70 L493.10,300.70 L493.60,300.70 L494.10,300.70 L494.60,300.70 L495.10,300.70 L495.60,300.70 L496.10,300.70 L496.60,300.70 L497.10,300.70 L497.60,300.70 L498.10,300.70 L498.60,300.70 L499.10,300.70 L499.60,300.70 L500.10,300.70 L500.60,300.70 L501.10,300.70 L501.60,300.70 L502.10,300.70 L502.60,300.70 L503.10,300.70 L503.60,300.70 L504.10,300.70 L504.60,300.70 L505.10,300.70 L505.60,300.70 L506.10,300.70 L506.60,300.70 L507.10,300.70 L507.60,300.70 L508.10,300.70 L508.60,300.70 L509.10,300.70 L509.60,300.70 L510.10,300.70 L510.60,300.70 L511.10,300.70 L511.60,300.70 L512.10,300.70 L512.60,300.70 L513.10,300.70 L513.60,300.70 L514.10,300.70 L514.60,300.70 L515.10,300.70 L515.60,300.70 L516.10,300.70 L516.60,300.70" fill="none" stroke="#36b536" stroke-width="1.15" stroke-linejoin="round"/>
<path d="M460.10,300.68 L460.60,300.67 L461.10,300.66 L461.60,300.63 L462.10,300.59 L462.60,300.53 L463.10,300.45 L463.60,300.34 L464.10,300.19 L464.60,300.02 L465.10,299.80 L465.60,299.70 L466.10,299.05 L466.60,298.74 L467.10,298.37 L467.60,298.17 L468.10,297.64 L468.60,297.09 L469.10,297.03 L469.60,297.25 L470.10,296.34 L470.60,296.95 L471.10,297.03 L471.60,296.41 L472.10,295.44 L472.60,293.98 L473.10,293.34 L473.60,291.07 L474.10,289.34 L474.60,287.01 L475.10,282.81 L475.60,280.51 L476.10,278.08 L476.60,275.77 L477.10,275.33 L477.60,274.05 L478.10,275.62 L478.60,276.40 L479.10,279.94 L479.60,282.46 L480.10,285.82 L480.60,288.48 L481.10,292.09 L481.60,294.54 L482.10,296.16 L482.60,297.96 L483.10,298.35 L483.60,299.55 L484.10,299.96 L484.60,300.24 L485.10,300.44 L485.60,300.56 L486.10,300.63 L486.60,300.67 L487.10,300.68 L487.60,300.69 L488.10,300.70 L488.60,300.70 L489.10,300.70 L489.60,300.70 L490.10,300.70 L490.60,300.70 L491.10,300.70 L491.60,300.70 L492.10,300.70 L492.60,300.70 L493.10,300.70 L493.60,300.70 L494.10,300.70 L494.60,300.70 L495.10,300.70 L495.60,300.70 L496.10,300.70 L496.60,300.70 L497.10,300.70 L497.60,300.70 L498.10,300.70 L498.60,300.70 L499.10,300.70 L499.60,300.70 L500.10,300.70 L500.60,300.70 L501.10,300.70 L501.60,300.70 L502.10,300.70 L502.60,300.70 L503.10,300.70 L503.60,300.70 L504.10,300.70 L504.60,300.70 L505.10,300.70 L505.60,300.70 L506.10,300.70 L506.60,300.70 L507.10,300.70 L507.60,300.70 L508.10,300.70 L508.60,300.70 L509.10,300.70 L509.60,300.70 L510.10,300.70 L510.60,300.70 L511.10,300.70 L511.60,300.70 L512.10,300.70 L512.60,300.70 L513.10,300.70 L513.60,300.70 L514.10,300.70 L514.60,300.70 L515.10,300.70 L515.60,300.70 L516.10,300.70 L516.60,300.70" fill="none" stroke="#e2268e" stroke-width="1.15" stroke-linejoin="round"/>
<path d="M460.10,300.21 L460.60,300.13 L461.10,299.97 L461.60,299.98 L462.10,299.89 L462.60,299.55 L463.10,299.65 L463.60,299.28 L464.10,298.96 L464.60,298.56 L465.10,298.50 L465.60,297.48 L466.10,296.89 L466.60,295.50 L467.10,295.55 L467.60,292.94 L468.10,292.51 L468.60,289.89 L469.10,288.43 L469.60,285.98 L470.10,284.88 L470.60,282.74 L471.10,281.30 L471.60,278.83 L472.10,278.05 L472.60,277.84 L473.10,277.67 L473.60,277.97 L474.10,278.21 L474.60,278.35 L475.10,279.37 L475.60,280.03 L476.10,282.09 L476.60,282.32 L477.10,283.48 L477.60,285.22 L478.10,286.62 L478.60,287.84 L479.10,290.21 L479.60,290.94 L480.10,292.62 L480.60,292.69 L481.10,293.97 L481.60,295.41 L482.10,295.67 L482.60,295.84 L483.10,296.70 L483.60,297.70 L484.10,297.17 L484.60,298.40 L485.10,297.96 L485.60,298.11 L486.10,298.47 L486.60,298.48 L487.10,298.82 L487.60,299.04 L488.10,298.83 L488.60,298.55 L489.10,298.39 L489.60,298.56 L490.10,298.01 L490.60,298.72 L491.10,298.39 L491.60,298.87 L492.10,298.83 L492.60,298.70 L493.10,299.46 L493.60,299.35 L494.10,299.65 L494.60,299.94 L495.10,300.14 L495.60,300.25 L496.10,300.34 L496.60,300.40 L497.10,300.44 L497.60,300.48 L498.10,300.51 L498.60,300.53 L499.10,300.55 L499.60,300.57 L500.10,300.58 L500.60,300.60 L501.10,300.61 L501.60,300.62 L502.10,300.63 L502.60,300.64 L503.10,300.65 L503.60,300.66 L504.10,300.66 L504.60,300.67 L505.10,300.67 L505.60,300.68 L506.10,300.68 L506.60,300.68 L507.10,300.69 L507.60,300.69 L508.10,300.69 L508.60,300.69 L509.10,300.69 L509.60,300.69 L510.10,300.69 L510.60,300.70 L511.10,300.70 L511.60,300.70 L512.10,300.70 L512.60,300.70 L513.10,300.70 L513.60,300.70 L514.10,300.70 L514.60,300.70 L515.10,300.70 L515.60,300.70 L516.10,300.70 L516.60,300.70" fill="none" stroke="#2a9fe0" stroke-width="1.2" stroke-linejoin="round"/>
<line x1="459.90000000000003" y1="264.2" x2="459.90000000000003" y2="300.7" stroke="#2a9fe0" stroke-width="0.9"/>
<line x1="244.79999999999998" y1="264.2" x2="244.79999999999998" y2="271.7" stroke="#e2268e" stroke-width="0.9"/>
<path d="M245.00,359.00 L245.50,359.00 L246.00,359.00 L246.50,359.00 L247.00,358.99 L247.50,358.99 L248.00,358.98 L248.50,358.97 L249.00,358.94 L249.50,358.91 L250.00,358.84 L250.50,358.74 L251.00,358.58 L251.50,358.38 L252.00,357.95 L252.50,357.43 L253.00,356.64 L253.50,356.17 L254.00,355.05 L254.50,353.71 L255.00,351.93 L255.50,349.48 L256.00,347.93 L256.50,345.27 L257.00,343.33 L257.50,341.12 L258.00,339.13 L258.50,337.28 L259.00,336.58 L259.50,336.83 L260.00,337.04 L260.50,338.59 L261.00,340.03 L261.50,342.67 L262.00,345.35 L262.50,347.79 L263.00,349.91 L263.50,351.21 L264.00,352.33 L264.50,353.39 L265.00,353.03 L265.50,353.52 L266.00,353.41 L266.50,353.88 L267.00,354.44 L267.50,355.06 L268.00,355.59 L268.50,356.26 L269.00,356.88 L269.50,356.92 L270.00,357.26 L270.50,357.40 L271.00,357.63 L271.50,357.73 L272.00,357.69 L272.50,357.88 L273.00,357.70 L273.50,357.77 L274.00,357.84 L274.50,357.83 L275.00,357.72 L275.50,357.81 L276.00,357.75 L276.50,357.72 L277.00,357.80 L277.50,357.90 L278.00,357.82 L278.50,357.92 L279.00,357.95 L279.50,358.00 L280.00,357.99 L280.50,358.10 L281.00,358.01 L281.50,357.98 L282.00,358.16 L282.50,358.14 L283.00,358.15 L283.50,358.36 L284.00,358.39 L284.50,358.32 L285.00,358.42 L285.50,358.46 L286.00,358.51 L286.50,358.55 L287.00,358.59 L287.50,358.63 L288.00,358.66 L288.50,358.69 L289.00,358.73 L289.50,358.75 L290.00,358.78 L290.50,358.81 L291.00,358.83 L291.50,358.85 L292.00,358.87 L292.50,358.88 L293.00,358.90 L293.50,358.91 L294.00,358.92 L294.50,358.93 L295.00,358.94 L295.50,358.95 L296.00,358.96 L296.50,358.97 L297.00,358.97 L297.50,358.98 L298.00,358.98 L298.50,358.98 L299.00,358.99 L299.50,358.99 L300.00,358.99 L300.50,358.99 L301.00,358.99 L301.50,358.99 L302.00,359.00 L302.50,359.00 L302.50,359.6 L245.00,359.6 Z" fill="#9a18c8" stroke="none"/>
<path d="M245.00,358.65 L245.50,358.47 L246.00,358.19 L246.50,357.87 L247.00,357.30 L247.50,356.87 L248.00,355.48 L248.50,354.27 L249.00,353.07 L249.50,351.96 L250.00,349.52 L250.50,347.45 L251.00,344.97 L251.50,341.34 L252.00,338.37 L252.50,336.58 L253.00,332.77 L253.50,330.48 L254.00,328.52 L254.50,326.90 L255.00,325.29 L255.50,325.07 L256.00,325.18 L256.50,326.78 L257.00,330.03 L257.50,332.65 L258.00,336.22 L258.50,340.18 L259.00,344.40 L259.50,348.51 L260.00,351.47 L260.50,353.68 L261.00,354.55 L261.50,356.56 L262.00,357.42 L262.50,357.88 L263.00,358.41 L263.50,358.66 L264.00,358.82 L264.50,358.90 L265.00,358.95 L265.50,358.98 L266.00,358.99 L266.50,358.99 L267.00,359.00 L267.50,359.00 L268.00,359.00 L268.50,359.00 L269.00,359.00 L269.50,359.00 L270.00,359.00 L270.50,359.00 L271.00,359.00 L271.50,359.00 L272.00,359.00 L272.50,359.00 L273.00,359.00 L273.50,359.00 L274.00,359.00 L274.50,359.00 L275.00,359.00 L275.50,359.00 L276.00,359.00 L276.50,359.00 L277.00,359.00 L277.50,359.00 L278.00,359.00 L278.50,359.00 L279.00,359.00 L279.50,359.00 L280.00,359.00 L280.50,359.00 L281.00,359.00 L281.50,359.00 L282.00,359.00 L282.50,359.00 L283.00,359.00 L283.50,359.00 L284.00,359.00 L284.50,359.00 L285.00,359.00 L285.50,359.00 L286.00,359.00 L286.50,359.00 L287.00,359.00 L287.50,359.00 L288.00,359.00 L288.50,359.00 L289.00,359.00 L289.50,359.00 L290.00,359.00 L290.50,359.00 L291.00,359.00 L291.50,359.00 L292.00,359.00 L292.50,359.00 L293.00,359.00 L293.50,359.00 L294.00,359.00 L294.50,359.00 L295.00,359.00 L295.50,359.00 L296.00,359.00 L296.50,359.00 L297.00,359.00 L297.50,359.00 L298.00,359.00 L298.50,359.00 L299.00,359.00 L299.50,359.00 L300.00,359.00 L300.50,359.00 L301.00,359.00 L301.50,359.00 L302.00,359.00 L302.50,359.00 L302.50,359.6 L245.00,359.6 Z" fill="#5b0fd2" stroke="#1e0448" stroke-width="0.85"/>
<path d="M245.00,359.00 L245.50,359.00 L246.00,359.00 L246.50,359.00 L247.00,358.99 L247.50,358.99 L248.00,358.98 L248.50,358.96 L249.00,358.93 L249.50,358.89 L250.00,358.81 L250.50,358.69 L251.00,358.51 L251.50,358.32 L252.00,357.82 L252.50,357.23 L253.00,356.02 L253.50,354.99 L254.00,353.63 L254.50,352.11 L255.00,350.84 L255.50,347.49 L256.00,345.64 L256.50,342.77 L257.00,340.79 L257.50,337.99 L258.00,335.07 L258.50,334.37 L259.00,333.33 L259.50,332.59 L260.00,333.11 L260.50,334.59 L261.00,337.13 L261.50,340.60 L262.00,344.00 L262.50,346.40 L263.00,348.87 L263.50,350.30 L264.00,351.41 L264.50,351.80 L265.00,352.47 L265.50,352.70 L266.00,352.51 L266.50,352.47 L267.00,353.32 L267.50,354.86 L268.00,355.20 L268.50,355.07 L269.00,355.79 L269.50,356.89 L270.00,357.28 L270.50,357.61 L271.00,357.66 L271.50,357.74 L272.00,357.30 L272.50,357.32 L273.00,357.62 L273.50,357.77 L274.00,357.29 L274.50,357.44 L275.00,357.29 L275.50,357.61 L276.00,357.32 L276.50,357.37 L277.00,357.46 L277.50,357.49 L278.00,357.50 L278.50,357.66 L279.00,357.47 L279.50,357.90 L280.00,357.81 L280.50,357.87 L281.00,357.87 L281.50,357.79 L282.00,358.13 L282.50,358.06 L283.00,358.11 L283.50,358.18 L284.00,358.17 L284.50,358.21 L285.00,358.28 L285.50,358.36 L286.00,358.42 L286.50,358.47 L287.00,358.51 L287.50,358.56 L288.00,358.60 L288.50,358.64 L289.00,358.68 L289.50,358.71 L290.00,358.74 L290.50,358.77 L291.00,358.80 L291.50,358.82 L292.00,358.84 L292.50,358.86 L293.00,358.88 L293.50,358.90 L294.00,358.91 L294.50,358.92 L295.00,358.93 L295.50,358.94 L296.00,358.95 L296.50,358.96 L297.00,358.97 L297.50,358.97 L298.00,358.98 L298.50,358.98 L299.00,358.98 L299.50,358.99 L300.00,358.99 L300.50,358.99 L301.00,358.99 L301.50,358.99 L302.00,358.99 L302.50,359.00" fill="none" stroke="#e2268e" stroke-width="1.15" stroke-linejoin="round"/>
<path d="M245.00,359.00 L245.50,359.00 L246.00,359.00 L246.50,359.00 L247.00,359.00 L247.50,359.00 L248.00,359.00 L248.50,359.00 L249.00,359.00 L249.50,359.00 L250.00,359.00 L250.50,359.00 L251.00,359.00 L251.50,359.00 L252.00,359.00 L252.50,358.99 L253.00,358.98 L253.50,358.96 L254.00,358.93 L254.50,358.87 L255.00,358.77 L255.50,358.61 L256.00,358.31 L256.50,357.83 L257.00,357.68 L257.50,357.06 L258.00,355.03 L258.50,354.56 L259.00,353.14 L259.50,350.88 L260.00,348.81 L260.50,346.49 L261.00,344.72 L261.50,343.09 L262.00,341.47 L262.50,341.34 L263.00,340.89 L263.50,340.80 L264.00,342.12 L264.50,343.70 L265.00,345.82 L265.50,346.04 L266.00,348.46 L266.50,348.33 L267.00,349.98 L267.50,350.01 L268.00,350.12 L268.50,350.60 L269.00,351.53 L269.50,351.41 L270.00,351.24 L270.50,351.54 L271.00,351.91 L271.50,352.03 L272.00,351.30 L272.50,351.70 L273.00,351.95 L273.50,352.70 L274.00,351.83 L274.50,351.66 L275.00,352.18 L275.50,352.69 L276.00,352.53 L276.50,352.81 L277.00,353.67 L277.50,353.26 L278.00,353.34 L278.50,354.11 L279.00,354.17 L279.50,354.27 L280.00,354.37 L280.50,354.63 L281.00,353.89 L281.50,354.16 L282.00,354.88 L282.50,355.48 L283.00,354.63 L283.50,354.90 L284.00,356.10 L284.50,355.29 L285.00,356.35 L285.50,355.58 L286.00,356.00 L286.50,355.83 L287.00,356.25 L287.50,356.82 L288.00,356.61 L288.50,356.46 L289.00,356.96 L289.50,356.91 L290.00,357.20 L290.50,357.11 L291.00,357.41 L291.50,357.54 L292.00,357.77 L292.50,357.40 L293.00,357.64 L293.50,357.60 L294.00,357.77 L294.50,358.00 L295.00,358.15 L295.50,357.91 L296.00,358.00 L296.50,358.07 L297.00,358.28 L297.50,358.28 L298.00,358.29 L298.50,358.43 L299.00,358.44 L299.50,358.48 L300.00,358.52 L300.50,358.56 L301.00,358.59 L301.50,358.63 L302.00,358.66 L302.50,358.68" fill="none" stroke="#2a9fe0" stroke-width="1.2" stroke-linejoin="round"/>
<line x1="244.79999999999998" y1="323.3" x2="244.79999999999998" y2="359" stroke="#2a9fe0" stroke-width="0.9"/>
<path d="M317.40,359.00 L317.90,359.00 L318.40,359.00 L318.90,358.99 L319.40,358.99 L319.90,358.98 L320.40,358.97 L320.90,358.94 L321.40,358.89 L321.90,358.82 L322.40,358.71 L322.90,358.53 L323.40,358.35 L323.90,357.86 L324.40,357.35 L324.90,356.49 L325.40,356.05 L325.90,355.04 L326.40,353.26 L326.90,351.83 L327.40,350.51 L327.90,348.35 L328.40,346.84 L328.90,344.75 L329.40,343.90 L329.90,342.59 L330.40,341.10 L330.90,341.30 L331.40,341.68 L331.90,342.28 L332.40,344.29 L332.90,347.06 L333.40,349.10 L333.90,351.35 L334.40,353.93 L334.90,355.15 L335.40,356.81 L335.90,357.57 L336.40,358.21 L336.90,358.51 L337.40,358.74 L337.90,358.87 L338.40,358.94 L338.90,358.97 L339.40,358.99 L339.90,359.00 L340.40,359.00 L340.90,359.00 L341.40,359.00 L341.90,359.00 L342.40,359.00 L342.90,359.00 L343.40,359.00 L343.90,359.00 L344.40,359.00 L344.90,359.00 L345.40,359.00 L345.90,359.00 L346.40,359.00 L346.90,359.00 L347.40,359.00 L347.90,359.00 L348.40,359.00 L348.90,359.00 L349.40,359.00 L349.90,359.00 L350.40,359.00 L350.90,359.00 L351.40,359.00 L351.90,359.00 L352.40,359.00 L352.90,359.00 L353.40,359.00 L353.90,359.00 L354.40,359.00 L354.90,359.00 L355.40,359.00 L355.90,359.00 L356.40,359.00 L356.90,359.00 L357.40,359.00 L357.90,359.00 L358.40,359.00 L358.90,359.00 L359.40,359.00 L359.90,359.00 L360.40,359.00 L360.90,359.00 L361.40,359.00 L361.90,359.00 L362.40,359.00 L362.90,359.00 L363.40,359.00 L363.90,359.00 L364.40,359.00 L364.90,359.00 L365.40,359.00 L365.90,359.00 L366.40,359.00 L366.90,359.00 L367.40,359.00 L367.90,359.00 L368.40,359.00 L368.90,359.00 L369.40,359.00 L369.90,359.00 L370.40,359.00 L370.90,359.00 L371.40,359.00 L371.90,359.00 L372.40,359.00 L372.90,359.00 L373.40,359.00 L373.90,359.00 L374.40,359.00 L374.90,359.00 L374.90,359.6 L317.40,359.6 Z" fill="#9a18c8" stroke="none"/>
<path d="M317.40,358.77 L317.90,358.64 L318.40,358.45 L318.90,358.18 L319.40,357.75 L319.90,357.00 L320.40,356.53 L320.90,355.55 L321.40,354.27 L321.90,353.30 L322.40,351.18 L322.90,349.05 L323.40,346.64 L323.90,345.09 L324.40,342.36 L324.90,340.17 L325.40,337.01 L325.90,335.12 L326.40,334.28 L326.90,332.02 L327.40,331.49 L327.90,332.03 L328.40,333.32 L328.90,336.10 L329.40,339.20 L329.90,341.91 L330.40,345.86 L330.90,348.88 L331.40,351.60 L331.90,354.14 L332.40,355.39 L332.90,356.68 L333.40,357.39 L333.90,358.13 L334.40,358.51 L334.90,358.74 L335.40,358.86 L335.90,358.93 L336.40,358.97 L336.90,358.99 L337.40,358.99 L337.90,359.00 L338.40,359.00 L338.90,359.00 L339.40,359.00 L339.90,359.00 L340.40,359.00 L340.90,359.00 L341.40,359.00 L341.90,359.00 L342.40,359.00 L342.90,359.00 L343.40,359.00 L343.90,359.00 L344.40,359.00 L344.90,359.00 L345.40,359.00 L345.90,359.00 L346.40,359.00 L346.90,359.00 L347.40,359.00 L347.90,359.00 L348.40,359.00 L348.90,359.00 L349.40,359.00 L349.90,359.00 L350.40,359.00 L350.90,359.00 L351.40,359.00 L351.90,359.00 L352.40,359.00 L352.90,359.00 L353.40,359.00 L353.90,359.00 L354.40,359.00 L354.90,359.00 L355.40,359.00 L355.90,359.00 L356.40,359.00 L356.90,359.00 L357.40,359.00 L357.90,359.00 L358.40,359.00 L358.90,359.00 L359.40,359.00 L359.90,359.00 L360.40,359.00 L360.90,359.00 L361.40,359.00 L361.90,359.00 L362.40,359.00 L362.90,359.00 L363.40,359.00 L363.90,359.00 L364.40,359.00 L364.90,359.00 L365.40,359.00 L365.90,359.00 L366.40,359.00 L366.90,359.00 L367.40,359.00 L367.90,359.00 L368.40,359.00 L368.90,359.00 L369.40,359.00 L369.90,359.00 L370.40,359.00 L370.90,359.00 L371.40,359.00 L371.90,359.00 L372.40,359.00 L372.90,359.00 L373.40,359.00 L373.90,359.00 L374.40,359.00 L374.90,359.00 L374.90,359.6 L317.40,359.6 Z" fill="#5b0fd2" stroke="#1e0448" stroke-width="0.85"/>
<path d="M317.40,359.00 L317.90,359.00 L318.40,359.00 L318.90,359.00 L319.40,358.99 L319.90,358.98 L320.40,358.97 L320.90,358.94 L321.40,358.90 L321.90,358.84 L322.40,358.73 L322.90,358.56 L323.40,358.24 L323.90,358.11 L324.40,357.24 L324.90,356.62 L325.40,356.18 L325.90,354.90 L326.40,354.09 L326.90,352.33 L327.40,349.82 L327.90,347.70 L328.40,346.50 L328.90,343.82 L329.40,342.46 L329.90,340.73 L330.40,339.23 L330.90,339.47 L331.40,339.53 L331.90,340.01 L332.40,340.88 L332.90,343.91 L333.40,345.86 L333.90,349.41 L334.40,351.05 L334.90,353.01 L335.40,355.40 L335.90,356.78 L336.40,357.66 L336.90,358.19 L337.40,358.47 L337.90,358.71 L338.40,358.85 L338.90,358.93 L339.40,358.97 L339.90,358.98 L340.40,358.99 L340.90,359.00 L341.40,359.00 L341.90,359.00 L342.40,359.00 L342.90,359.00 L343.40,359.00 L343.90,359.00 L344.40,359.00 L344.90,359.00 L345.40,359.00 L345.90,359.00 L346.40,359.00 L346.90,359.00 L347.40,359.00 L347.90,359.00 L348.40,359.00 L348.90,359.00 L349.40,359.00 L349.90,359.00 L350.40,359.00 L350.90,359.00 L351.40,359.00 L351.90,359.00 L352.40,359.00 L352.90,359.00 L353.40,359.00 L353.90,359.00 L354.40,359.00 L354.90,359.00 L355.40,359.00 L355.90,359.00 L356.40,359.00 L356.90,359.00 L357.40,359.00 L357.90,359.00 L358.40,359.00 L358.90,359.00 L359.40,359.00 L359.90,359.00 L360.40,359.00 L360.90,359.00 L361.40,359.00 L361.90,359.00 L362.40,359.00 L362.90,359.00 L363.40,359.00 L363.90,359.00 L364.40,359.00 L364.90,359.00 L365.40,359.00 L365.90,359.00 L366.40,359.00 L366.90,359.00 L367.40,359.00 L367.90,359.00 L368.40,359.00 L368.90,359.00 L369.40,359.00 L369.90,359.00 L370.40,359.00 L370.90,359.00 L371.40,359.00 L371.90,359.00 L372.40,359.00 L372.90,359.00 L373.40,359.00 L373.90,359.00 L374.40,359.00 L374.90,359.00" fill="none" stroke="#36b536" stroke-width="1.15" stroke-linejoin="round"/>
<path d="M317.40,359.00 L317.90,359.00 L318.40,359.00 L318.90,358.99 L319.40,358.99 L319.90,358.98 L320.40,358.96 L320.90,358.93 L321.40,358.87 L321.90,358.79 L322.40,358.66 L322.90,358.45 L323.40,358.15 L323.90,357.56 L324.40,357.40 L324.90,356.46 L325.40,355.90 L325.90,353.84 L326.40,352.95 L326.90,351.01 L327.40,348.33 L327.90,347.31 L328.40,345.06 L328.90,342.84 L329.40,340.35 L329.90,339.40 L330.40,338.24 L330.90,337.45 L331.40,338.72 L331.90,339.76 L332.40,342.32 L332.90,344.14 L333.40,348.09 L333.90,349.83 L334.40,352.85 L334.90,354.53 L335.40,356.47 L335.90,356.98 L336.40,358.03 L336.90,358.42 L337.40,358.69 L337.90,358.85 L338.40,358.93 L338.90,358.97 L339.40,358.99 L339.90,358.99 L340.40,359.00 L340.90,359.00 L341.40,359.00 L341.90,359.00 L342.40,359.00 L342.90,359.00 L343.40,359.00 L343.90,359.00 L344.40,359.00 L344.90,359.00 L345.40,359.00 L345.90,359.00 L346.40,359.00 L346.90,359.00 L347.40,359.00 L347.90,359.00 L348.40,359.00 L348.90,359.00 L349.40,359.00 L349.90,359.00 L350.40,359.00 L350.90,359.00 L351.40,359.00 L351.90,359.00 L352.40,359.00 L352.90,359.00 L353.40,359.00 L353.90,359.00 L354.40,359.00 L354.90,359.00 L355.40,359.00 L355.90,359.00 L356.40,359.00 L356.90,359.00 L357.40,359.00 L357.90,359.00 L358.40,359.00 L358.90,359.00 L359.40,359.00 L359.90,359.00 L360.40,359.00 L360.90,359.00 L361.40,359.00 L361.90,359.00 L362.40,359.00 L362.90,359.00 L363.40,359.00 L363.90,359.00 L364.40,359.00 L364.90,359.00 L365.40,359.00 L365.90,359.00 L366.40,359.00 L366.90,359.00 L367.40,359.00 L367.90,359.00 L368.40,359.00 L368.90,359.00 L369.40,359.00 L369.90,359.00 L370.40,359.00 L370.90,359.00 L371.40,359.00 L371.90,359.00 L372.40,359.00 L372.90,359.00 L373.40,359.00 L373.90,359.00 L374.40,359.00 L374.90,359.00" fill="none" stroke="#e2268e" stroke-width="1.15" stroke-linejoin="round"/>
<path d="M317.40,358.93 L317.90,358.91 L318.40,358.90 L318.90,358.88 L319.40,358.85 L319.90,358.83 L320.40,358.80 L320.90,358.76 L321.40,358.71 L321.90,358.66 L322.40,358.59 L322.90,358.49 L323.40,358.43 L323.90,358.16 L324.40,358.10 L324.90,357.45 L325.40,357.40 L325.90,356.67 L326.40,355.61 L326.90,354.41 L327.40,353.72 L327.90,352.22 L328.40,350.87 L328.90,348.71 L329.40,347.76 L329.90,345.26 L330.40,343.61 L330.90,342.21 L331.40,340.96 L331.90,340.63 L332.40,339.37 L332.90,339.60 L333.40,339.98 L333.90,341.37 L334.40,342.26 L334.90,344.38 L335.40,346.28 L335.90,348.65 L336.40,349.98 L336.90,350.60 L337.40,352.54 L337.90,353.64 L338.40,353.95 L338.90,354.71 L339.40,354.05 L339.90,354.46 L340.40,355.22 L340.90,354.31 L341.40,355.07 L341.90,355.31 L342.40,354.65 L342.90,355.70 L343.40,355.65 L343.90,355.55 L344.40,355.12 L344.90,355.84 L345.40,355.75 L345.90,356.31 L346.40,356.35 L346.90,356.38 L347.40,356.20 L347.90,356.27 L348.40,356.47 L348.90,357.11 L349.40,357.03 L349.90,357.36 L350.40,357.14 L350.90,357.52 L351.40,357.31 L351.90,357.53 L352.40,357.64 L352.90,357.97 L353.40,357.86 L353.90,358.03 L354.40,358.31 L354.90,358.18 L355.40,358.45 L355.90,358.44 L356.40,358.51 L356.90,358.57 L357.40,358.62 L357.90,358.67 L358.40,358.72 L358.90,358.75 L359.40,358.79 L359.90,358.82 L360.40,358.85 L360.90,358.87 L361.40,358.89 L361.90,358.91 L362.40,358.92 L362.90,358.93 L363.40,358.94 L363.90,358.95 L364.40,358.96 L364.90,358.97 L365.40,358.97 L365.90,358.98 L366.40,358.98 L366.90,358.99 L367.40,358.99 L367.90,358.99 L368.40,358.99 L368.90,358.99 L369.40,359.00 L369.90,359.00 L370.40,359.00 L370.90,359.00 L371.40,359.00 L371.90,359.00 L372.40,359.00 L372.90,359.00 L373.40,359.00 L373.90,359.00 L374.40,359.00 L374.90,359.00" fill="none" stroke="#2a9fe0" stroke-width="1.2" stroke-linejoin="round"/>
<line x1="317.20000000000005" y1="323.3" x2="317.20000000000005" y2="359" stroke="#2a9fe0" stroke-width="0.9"/>
<path d="M389.40,358.82 L389.90,358.79 L390.40,358.76 L390.90,358.72 L391.40,358.68 L391.90,358.63 L392.40,358.58 L392.90,358.52 L393.40,358.46 L393.90,358.33 L394.40,358.41 L394.90,358.20 L395.40,358.23 L395.90,357.96 L396.40,358.08 L396.90,357.71 L397.40,357.58 L397.90,357.25 L398.40,356.77 L398.90,356.64 L399.40,355.81 L399.90,354.32 L400.40,353.18 L400.90,351.13 L401.40,348.58 L401.90,344.91 L402.40,341.52 L402.90,338.13 L403.40,335.43 L403.90,331.99 L404.40,330.51 L404.90,329.97 L405.40,330.05 L405.90,331.36 L406.40,333.80 L406.90,336.05 L407.40,339.35 L407.90,342.34 L408.40,345.07 L408.90,348.14 L409.40,350.78 L409.90,352.27 L410.40,353.67 L410.90,355.32 L411.40,355.83 L411.90,357.01 L412.40,357.31 L412.90,357.56 L413.40,357.48 L413.90,357.72 L414.40,357.84 L414.90,358.05 L415.40,358.08 L415.90,358.08 L416.40,358.31 L416.90,358.37 L417.40,358.43 L417.90,358.42 L418.40,358.48 L418.90,358.53 L419.40,358.58 L419.90,358.63 L420.40,358.67 L420.90,358.71 L421.40,358.74 L421.90,358.77 L422.40,358.80 L422.90,358.83 L423.40,358.85 L423.90,358.87 L424.40,358.89 L424.90,358.90 L425.40,358.92 L425.90,358.93 L426.40,358.94 L426.90,358.95 L427.40,358.96 L427.90,358.96 L428.40,358.97 L428.90,358.98 L429.40,358.98 L429.90,358.98 L430.40,358.99 L430.90,358.99 L431.40,358.99 L431.90,358.99 L432.40,358.99 L432.90,359.00 L433.40,359.00 L433.90,359.00 L434.40,359.00 L434.90,359.00 L435.40,359.00 L435.90,359.00 L436.40,359.00 L436.90,359.00 L437.40,359.00 L437.90,359.00 L438.40,359.00 L438.90,359.00 L439.40,359.00 L439.90,359.00 L440.40,359.00 L440.90,359.00 L441.40,359.00 L441.90,359.00 L442.40,359.00 L442.90,359.00 L443.40,359.00 L443.90,359.00 L444.40,359.00 L444.90,359.00 L445.40,359.00 L445.90,359.00 L446.40,359.00 L446.40,359.6 L389.40,359.6 Z" fill="#9a18c8" stroke="none"/>
<path d="M389.40,358.47 L389.90,358.40 L390.40,358.27 L390.90,358.17 L391.40,358.21 L391.90,358.15 L392.40,357.92 L392.90,357.83 L393.40,357.46 L393.90,357.33 L394.40,357.16 L394.90,356.93 L395.40,356.53 L395.90,356.52 L396.40,355.73 L396.90,355.33 L397.40,353.46 L397.90,353.19 L398.40,350.66 L398.90,349.56 L399.40,346.47 L399.90,344.21 L400.40,341.22 L400.90,337.70 L401.40,335.79 L401.90,333.14 L402.40,330.02 L402.90,329.10 L403.40,329.01 L403.90,328.26 L404.40,329.60 L404.90,332.74 L405.40,335.12 L405.90,338.59 L406.40,341.62 L406.90,344.38 L407.40,347.77 L407.90,349.58 L408.40,352.37 L408.90,353.82 L409.40,354.26 L409.90,355.64 L410.40,356.27 L410.90,356.61 L411.40,357.04 L411.90,357.35 L412.40,357.71 L412.90,357.58 L413.40,357.65 L413.90,357.80 L414.40,358.02 L414.90,358.21 L415.40,358.30 L415.90,358.32 L416.40,358.44 L416.90,358.51 L417.40,358.58 L417.90,358.64 L418.40,358.69 L418.90,358.73 L419.40,358.78 L419.90,358.81 L420.40,358.84 L420.90,358.87 L421.40,358.89 L421.90,358.91 L422.40,358.92 L422.90,358.94 L423.40,358.95 L423.90,358.96 L424.40,358.97 L424.90,358.97 L425.40,358.98 L425.90,358.98 L426.40,358.99 L426.90,358.99 L427.40,358.99 L427.90,358.99 L428.40,359.00 L428.90,359.00 L429.40,359.00 L429.90,359.00 L430.40,359.00 L430.90,359.00 L431.40,359.00 L431.90,359.00 L432.40,359.00 L432.90,359.00 L433.40,359.00 L433.90,359.00 L434.40,359.00 L434.90,359.00 L435.40,359.00 L435.90,359.00 L436.40,359.00 L436.90,359.00 L437.40,359.00 L437.90,359.00 L438.40,359.00 L438.90,359.00 L439.40,359.00 L439.90,359.00 L440.40,359.00 L440.90,359.00 L441.40,359.00 L441.90,359.00 L442.40,359.00 L442.90,359.00 L443.40,359.00 L443.90,359.00 L444.40,359.00 L444.90,359.00 L445.40,359.00 L445.90,359.00 L446.40,359.00 L446.40,359.6 L389.40,359.6 Z" fill="#5b0fd2" stroke="#1e0448" stroke-width="0.85"/>
<path d="M389.40,358.62 L389.90,358.57 L390.40,358.51 L390.90,358.44 L391.40,358.40 L391.90,358.19 L392.40,358.23 L392.90,358.20 L393.40,357.90 L393.90,357.80 L394.40,357.69 L394.90,357.85 L395.40,357.47 L395.90,357.25 L396.40,356.91 L396.90,356.27 L397.40,355.51 L397.90,353.94 L398.40,352.89 L398.90,349.81 L399.40,346.40 L399.90,343.73 L400.40,340.24 L400.90,335.89 L401.40,332.76 L401.90,328.95 L402.40,326.90 L402.90,326.11 L403.40,326.94 L403.90,329.39 L404.40,332.24 L404.90,335.35 L405.40,338.78 L405.90,343.34 L406.40,346.05 L406.90,349.61 L407.40,352.68 L407.90,353.87 L408.40,354.60 L408.90,356.33 L409.40,356.47 L409.90,357.03 L410.40,357.54 L410.90,357.45 L411.40,357.88 L411.90,357.90 L412.40,357.88 L412.90,358.22 L413.40,358.06 L413.90,358.29 L414.40,358.30 L414.90,358.41 L415.40,358.48 L415.90,358.54 L416.40,358.60 L416.90,358.65 L417.40,358.70 L417.90,358.74 L418.40,358.78 L418.90,358.81 L419.40,358.84 L419.90,358.86 L420.40,358.89 L420.90,358.90 L421.40,358.92 L421.90,358.93 L422.40,358.95 L422.90,358.96 L423.40,358.96 L423.90,358.97 L424.40,358.98 L424.90,358.98 L425.40,358.99 L425.90,358.99 L426.40,358.99 L426.90,358.99 L427.40,358.99 L427.90,359.00 L428.40,359.00 L428.90,359.00 L429.40,359.00 L429.90,359.00 L430.40,359.00 L430.90,359.00 L431.40,359.00 L431.90,359.00 L432.40,359.00 L432.90,359.00 L433.40,359.00 L433.90,359.00 L434.40,359.00 L434.90,359.00 L435.40,359.00 L435.90,359.00 L436.40,359.00 L436.90,359.00 L437.40,359.00 L437.90,359.00 L438.40,359.00 L438.90,359.00 L439.40,359.00 L439.90,359.00 L440.40,359.00 L440.90,359.00 L441.40,359.00 L441.90,359.00 L442.40,359.00 L442.90,359.00 L443.40,359.00 L443.90,359.00 L444.40,359.00 L444.90,359.00 L445.40,359.00 L445.90,359.00 L446.40,359.00" fill="none" stroke="#150020" stroke-width="1.1" stroke-linejoin="round"/>
<path d="M389.40,358.79 L389.90,358.76 L390.40,358.72 L390.90,358.67 L391.40,358.62 L391.90,358.57 L392.40,358.51 L392.90,358.44 L393.40,358.45 L393.90,358.33 L394.40,358.30 L394.90,358.19 L395.40,357.95 L395.90,358.03 L396.40,357.84 L396.90,357.75 L397.40,357.13 L397.90,357.10 L398.40,356.80 L398.90,356.08 L399.40,354.56 L399.90,353.82 L400.40,351.28 L400.90,349.39 L401.40,346.43 L401.90,341.84 L402.40,338.96 L402.90,333.53 L403.40,330.38 L403.90,326.49 L404.40,324.59 L404.90,324.12 L405.40,324.51 L405.90,326.00 L406.40,328.53 L406.90,331.74 L407.40,335.38 L407.90,339.34 L408.40,342.40 L408.90,346.11 L409.40,349.42 L409.90,351.99 L410.40,352.97 L410.90,354.51 L411.40,355.08 L411.90,356.63 L412.40,357.02 L412.90,356.85 L413.40,357.51 L413.90,357.34 L414.40,357.47 L414.90,357.80 L415.40,357.83 L415.90,358.13 L416.40,357.98 L416.90,358.14 L417.40,358.24 L417.90,358.43 L418.40,358.35 L418.90,358.45 L419.40,358.51 L419.90,358.56 L420.40,358.61 L420.90,358.65 L421.40,358.69 L421.90,358.73 L422.40,358.77 L422.90,358.80 L423.40,358.82 L423.90,358.85 L424.40,358.87 L424.90,358.89 L425.40,358.90 L425.90,358.92 L426.40,358.93 L426.90,358.94 L427.40,358.95 L427.90,358.96 L428.40,358.97 L428.90,358.97 L429.40,358.98 L429.90,358.98 L430.40,358.98 L430.90,358.99 L431.40,358.99 L431.90,358.99 L432.40,358.99 L432.90,358.99 L433.40,359.00 L433.90,359.00 L434.40,359.00 L434.90,359.00 L435.40,359.00 L435.90,359.00 L436.40,359.00 L436.90,359.00 L437.40,359.00 L437.90,359.00 L438.40,359.00 L438.90,359.00 L439.40,359.00 L439.90,359.00 L440.40,359.00 L440.90,359.00 L441.40,359.00 L441.90,359.00 L442.40,359.00 L442.90,359.00 L443.40,359.00 L443.90,359.00 L444.40,359.00 L444.90,359.00 L445.40,359.00 L445.90,359.00 L446.40,359.00" fill="none" stroke="#36b536" stroke-width="1.15" stroke-linejoin="round"/>
<path d="M389.40,358.79 L389.90,358.76 L390.40,358.72 L390.90,358.67 L391.40,358.62 L391.90,358.57 L392.40,358.51 L392.90,358.44 L393.40,358.32 L393.90,358.19 L394.40,358.33 L394.90,358.27 L395.40,357.84 L395.90,357.97 L396.40,357.90 L396.90,357.61 L397.40,357.37 L397.90,356.94 L398.40,356.58 L398.90,355.98 L399.40,354.73 L399.90,354.07 L400.40,351.93 L400.90,348.91 L401.40,346.10 L401.90,342.69 L402.40,339.40 L402.90,334.17 L403.40,331.58 L403.90,327.29 L404.40,325.98 L404.90,324.53 L405.40,324.62 L405.90,326.33 L406.40,329.54 L406.90,332.48 L407.40,335.82 L407.90,339.77 L408.40,343.65 L408.90,346.92 L409.40,348.88 L409.90,351.45 L410.40,353.36 L410.90,355.32 L411.40,355.33 L411.90,355.87 L412.40,356.64 L412.90,357.16 L413.40,357.27 L413.90,357.50 L414.40,357.87 L414.90,357.79 L415.40,357.87 L415.90,358.11 L416.40,358.17 L416.90,358.22 L417.40,358.28 L417.90,358.36 L418.40,358.29 L418.90,358.45 L419.40,358.51 L419.90,358.56 L420.40,358.61 L420.90,358.65 L421.40,358.69 L421.90,358.73 L422.40,358.77 L422.90,358.80 L423.40,358.82 L423.90,358.85 L424.40,358.87 L424.90,358.89 L425.40,358.90 L425.90,358.92 L426.40,358.93 L426.90,358.94 L427.40,358.95 L427.90,358.96 L428.40,358.97 L428.90,358.97 L429.40,358.98 L429.90,358.98 L430.40,358.98 L430.90,358.99 L431.40,358.99 L431.90,358.99 L432.40,358.99 L432.90,358.99 L433.40,359.00 L433.90,359.00 L434.40,359.00 L434.90,359.00 L435.40,359.00 L435.90,359.00 L436.40,359.00 L436.90,359.00 L437.40,359.00 L437.90,359.00 L438.40,359.00 L438.90,359.00 L439.40,359.00 L439.90,359.00 L440.40,359.00 L440.90,359.00 L441.40,359.00 L441.90,359.00 L442.40,359.00 L442.90,359.00 L443.40,359.00 L443.90,359.00 L444.40,359.00 L444.90,359.00 L445.40,359.00 L445.90,359.00 L446.40,359.00" fill="none" stroke="#e2268e" stroke-width="1.15" stroke-linejoin="round"/>
<path d="M389.40,358.13 L389.90,358.27 L390.40,357.93 L390.90,358.01 L391.40,358.04 L391.90,357.91 L392.40,357.59 L392.90,357.37 L393.40,357.07 L393.90,356.85 L394.40,357.13 L394.90,356.25 L395.40,356.62 L395.90,355.50 L396.40,355.44 L396.90,354.75 L397.40,353.88 L397.90,353.95 L398.40,353.35 L398.90,351.30 L399.40,351.32 L399.90,350.11 L400.40,349.28 L400.90,347.71 L401.40,346.72 L401.90,345.36 L402.40,343.69 L402.90,343.40 L403.40,342.73 L403.90,341.68 L404.40,341.40 L404.90,341.92 L405.40,341.08 L405.90,341.38 L406.40,342.54 L406.90,342.72 L407.40,343.25 L407.90,344.46 L408.40,344.93 L408.90,345.98 L409.40,347.23 L409.90,347.77 L410.40,349.63 L410.90,349.85 L411.40,350.66 L411.90,351.68 L412.40,352.15 L412.90,353.02 L413.40,354.16 L413.90,355.29 L414.40,355.70 L414.90,356.19 L415.40,356.33 L415.90,356.06 L416.40,356.26 L416.90,356.61 L417.40,356.78 L417.90,357.22 L418.40,357.23 L418.90,357.47 L419.40,357.46 L419.90,357.98 L420.40,357.77 L420.90,358.04 L421.40,358.15 L421.90,358.06 L422.40,358.22 L422.90,358.22 L423.40,358.39 L423.90,358.41 L424.40,358.47 L424.90,358.52 L425.40,358.56 L425.90,358.61 L426.40,358.65 L426.90,358.68 L427.40,358.72 L427.90,358.75 L428.40,358.77 L428.90,358.80 L429.40,358.82 L429.90,358.84 L430.40,358.86 L430.90,358.88 L431.40,358.89 L431.90,358.91 L432.40,358.92 L432.90,358.93 L433.40,358.94 L433.90,358.95 L434.40,358.95 L434.90,358.96 L435.40,358.97 L435.90,358.97 L436.40,358.97 L436.90,358.98 L437.40,358.98 L437.90,358.98 L438.40,358.99 L438.90,358.99 L439.40,358.99 L439.90,358.99 L440.40,358.99 L440.90,358.99 L441.40,359.00 L441.90,359.00 L442.40,359.00 L442.90,359.00 L443.40,359.00 L443.90,359.00 L444.40,359.00 L444.90,359.00 L445.40,359.00 L445.90,359.00 L446.40,359.00" fill="none" stroke="#2a9fe0" stroke-width="1.2" stroke-linejoin="round"/>
<line x1="389.20000000000005" y1="323.3" x2="389.20000000000005" y2="359" stroke="#2a9fe0" stroke-width="0.9"/>
<path d="M460.10,358.99 L460.60,358.98 L461.10,358.97 L461.60,358.96 L462.10,358.94 L462.60,358.91 L463.10,358.88 L463.60,358.83 L464.10,358.76 L464.60,358.68 L465.10,358.57 L465.60,358.44 L466.10,358.30 L466.60,358.08 L467.10,357.87 L467.60,357.60 L468.10,357.32 L468.60,356.86 L469.10,356.72 L469.60,356.08 L470.10,356.13 L470.60,355.41 L471.10,354.77 L471.60,354.18 L472.10,352.51 L472.60,351.48 L473.10,349.03 L473.60,346.31 L474.10,343.92 L474.60,339.83 L475.10,336.43 L475.60,333.53 L476.10,332.05 L476.60,330.82 L477.10,331.19 L477.60,333.08 L478.10,335.56 L478.60,338.45 L479.10,341.77 L479.60,344.52 L480.10,348.00 L480.60,350.59 L481.10,352.56 L481.60,353.98 L482.10,355.90 L482.60,356.94 L483.10,357.15 L483.60,357.71 L484.10,358.07 L484.60,358.35 L485.10,358.51 L485.60,358.63 L486.10,358.72 L486.60,358.78 L487.10,358.83 L487.60,358.87 L488.10,358.90 L488.60,358.93 L489.10,358.95 L489.60,358.96 L490.10,358.97 L490.60,358.98 L491.10,358.99 L491.60,358.99 L492.10,358.99 L492.60,358.99 L493.10,359.00 L493.60,359.00 L494.10,359.00 L494.60,359.00 L495.10,359.00 L495.60,359.00 L496.10,359.00 L496.60,359.00 L497.10,359.00 L497.60,359.00 L498.10,359.00 L498.60,359.00 L499.10,359.00 L499.60,359.00 L500.10,359.00 L500.60,359.00 L501.10,359.00 L501.60,359.00 L502.10,359.00 L502.60,359.00 L503.10,359.00 L503.60,359.00 L504.10,359.00 L504.60,359.00 L505.10,359.00 L505.60,359.00 L506.10,359.00 L506.60,359.00 L507.10,359.00 L507.60,359.00 L508.10,359.00 L508.60,359.00 L509.10,359.00 L509.60,359.00 L510.10,359.00 L510.60,359.00 L511.10,359.00 L511.60,359.00 L512.10,359.00 L512.60,359.00 L513.10,359.00 L513.60,359.00 L514.10,359.00 L514.60,359.00 L515.10,359.00 L515.60,359.00 L516.10,359.00 L516.60,359.00 L516.60,359.6 L460.10,359.6 Z" fill="#9a18c8" stroke="none"/>
<path d="M460.10,358.57 L460.60,358.52 L461.10,358.47 L461.60,358.41 L462.10,358.38 L462.60,358.21 L463.10,358.12 L463.60,357.96 L464.10,358.03 L464.60,357.87 L465.10,357.75 L465.60,357.52 L466.10,357.01 L466.60,357.08 L467.10,356.49 L467.60,356.37 L468.10,355.90 L468.60,355.29 L469.10,354.28 L469.60,353.99 L470.10,354.09 L470.60,353.12 L471.10,352.52 L471.60,350.76 L472.10,349.69 L472.60,348.17 L473.10,346.07 L473.60,343.41 L474.10,339.70 L474.60,335.86 L475.10,332.26 L475.60,327.63 L476.10,325.14 L476.60,323.44 L477.10,324.05 L477.60,325.92 L478.10,328.80 L478.60,332.29 L479.10,336.38 L479.60,340.58 L480.10,343.43 L480.60,346.66 L481.10,349.08 L481.60,351.51 L482.10,353.24 L482.60,354.17 L483.10,355.71 L483.60,355.76 L484.10,356.43 L484.60,356.96 L485.10,357.20 L485.60,357.24 L486.10,357.57 L486.60,357.64 L487.10,357.73 L487.60,357.94 L488.10,358.13 L488.60,358.12 L489.10,358.27 L489.60,358.34 L490.10,358.42 L490.60,358.42 L491.10,358.48 L491.60,358.53 L492.10,358.58 L492.60,358.63 L493.10,358.66 L493.60,358.70 L494.10,358.73 L494.60,358.76 L495.10,358.79 L495.60,358.81 L496.10,358.83 L496.60,358.85 L497.10,358.87 L497.60,358.89 L498.10,358.90 L498.60,358.91 L499.10,358.93 L499.60,358.94 L500.10,358.94 L500.60,358.95 L501.10,358.96 L501.60,358.96 L502.10,358.97 L502.60,358.97 L503.10,358.98 L503.60,358.98 L504.10,358.98 L504.60,358.99 L505.10,358.99 L505.60,358.99 L506.10,358.99 L506.60,358.99 L507.10,358.99 L507.60,359.00 L508.10,359.00 L508.60,359.00 L509.10,359.00 L509.60,359.00 L510.10,359.00 L510.60,359.00 L511.10,359.00 L511.60,359.00 L512.10,359.00 L512.60,359.00 L513.10,359.00 L513.60,359.00 L514.10,359.00 L514.60,359.00 L515.10,359.00 L515.60,359.00 L516.10,359.00 L516.60,359.00 L516.60,359.6 L460.10,359.6 Z" fill="#5b0fd2" stroke="#1e0448" stroke-width="0.85"/>
<path d="M460.10,359.00 L460.60,359.00 L461.10,359.00 L461.60,359.00 L462.10,359.00 L462.60,359.00 L463.10,359.00 L463.60,359.00 L464.10,359.00 L464.60,359.00 L465.10,359.00 L465.60,359.00 L466.10,359.00 L466.60,359.00 L467.10,359.00 L467.60,359.00 L468.10,359.00 L468.60,359.00 L469.10,359.00 L469.60,358.99 L470.10,358.98 L470.60,358.93 L471.10,358.81 L471.60,358.54 L472.10,358.03 L472.60,356.77 L473.10,354.50 L473.60,350.98 L474.10,347.31 L474.60,341.43 L475.10,335.46 L475.60,329.49 L476.10,325.00 L476.60,323.31 L477.10,324.29 L477.60,326.82 L478.10,331.88 L478.60,336.21 L479.10,340.02 L479.60,345.10 L480.10,349.62 L480.60,352.13 L481.10,354.07 L481.60,356.60 L482.10,357.54 L482.60,358.25 L483.10,358.55 L483.60,358.78 L484.10,358.90 L484.60,358.95 L485.10,358.98 L485.60,358.99 L486.10,359.00 L486.60,359.00 L487.10,359.00 L487.60,359.00 L488.10,359.00 L488.60,359.00 L489.10,359.00 L489.60,359.00 L490.10,359.00 L490.60,359.00 L491.10,359.00 L491.60,359.00 L492.10,359.00 L492.60,359.00 L493.10,359.00 L493.60,359.00 L494.10,359.00 L494.60,359.00 L495.10,359.00 L495.60,359.00 L496.10,359.00 L496.60,359.00 L497.10,359.00 L497.60,359.00 L498.10,359.00 L498.60,359.00 L499.10,359.00 L499.60,359.00 L500.10,359.00 L500.60,359.00 L501.10,359.00 L501.60,359.00 L502.10,359.00 L502.60,359.00 L503.10,359.00 L503.60,359.00 L504.10,359.00 L504.60,359.00 L505.10,359.00 L505.60,359.00 L506.10,359.00 L506.60,359.00 L507.10,359.00 L507.60,359.00 L508.10,359.00 L508.60,359.00 L509.10,359.00 L509.60,359.00 L510.10,359.00 L510.60,359.00 L511.10,359.00 L511.60,359.00 L512.10,359.00 L512.60,359.00 L513.10,359.00 L513.60,359.00 L514.10,359.00 L514.60,359.00 L515.10,359.00 L515.60,359.00 L516.10,359.00 L516.60,359.00" fill="none" stroke="#36b536" stroke-width="1.15" stroke-linejoin="round"/>
<path d="M460.10,358.99 L460.60,358.98 L461.10,358.97 L461.60,358.95 L462.10,358.93 L462.60,358.90 L463.10,358.85 L463.60,358.80 L464.10,358.72 L464.60,358.62 L465.10,358.50 L465.60,358.41 L466.10,358.11 L466.60,358.07 L467.10,357.45 L467.60,357.51 L468.10,357.00 L468.60,356.35 L469.10,355.74 L469.60,355.58 L470.10,354.90 L470.60,354.50 L471.10,353.35 L471.60,353.29 L472.10,351.39 L472.60,349.79 L473.10,347.66 L473.60,344.70 L474.10,341.67 L474.60,336.82 L475.10,332.91 L475.60,329.06 L476.10,326.81 L476.60,325.20 L477.10,326.18 L477.60,328.07 L478.10,331.49 L478.60,334.72 L479.10,337.83 L479.60,342.51 L480.10,346.36 L480.60,349.18 L481.10,352.09 L481.60,353.17 L482.10,354.93 L482.60,356.53 L483.10,356.75 L483.60,357.62 L484.10,358.04 L484.60,358.14 L485.10,358.43 L485.60,358.56 L486.10,358.67 L486.60,358.74 L487.10,358.80 L487.60,358.85 L488.10,358.89 L488.60,358.92 L489.10,358.94 L489.60,358.95 L490.10,358.97 L490.60,358.98 L491.10,358.98 L491.60,358.99 L492.10,358.99 L492.60,358.99 L493.10,359.00 L493.60,359.00 L494.10,359.00 L494.60,359.00 L495.10,359.00 L495.60,359.00 L496.10,359.00 L496.60,359.00 L497.10,359.00 L497.60,359.00 L498.10,359.00 L498.60,359.00 L499.10,359.00 L499.60,359.00 L500.10,359.00 L500.60,359.00 L501.10,359.00 L501.60,359.00 L502.10,359.00 L502.60,359.00 L503.10,359.00 L503.60,359.00 L504.10,359.00 L504.60,359.00 L505.10,359.00 L505.60,359.00 L506.10,359.00 L506.60,359.00 L507.10,359.00 L507.60,359.00 L508.10,359.00 L508.60,359.00 L509.10,359.00 L509.60,359.00 L510.10,359.00 L510.60,359.00 L511.10,359.00 L511.60,359.00 L512.10,359.00 L512.60,359.00 L513.10,359.00 L513.60,359.00 L514.10,359.00 L514.60,359.00 L515.10,359.00 L515.60,359.00 L516.10,359.00 L516.60,359.00" fill="none" stroke="#e2268e" stroke-width="1.15" stroke-linejoin="round"/>
<path d="M460.10,358.43 L460.60,358.36 L461.10,358.10 L461.60,358.10 L462.10,358.09 L462.60,357.96 L463.10,357.75 L463.60,357.71 L464.10,357.35 L464.60,357.50 L465.10,357.15 L465.60,356.98 L466.10,356.30 L466.60,355.86 L467.10,355.80 L467.60,354.90 L468.10,355.53 L468.60,354.16 L469.10,354.18 L469.60,353.65 L470.10,352.48 L470.60,352.46 L471.10,351.82 L471.60,350.76 L472.10,349.61 L472.60,348.85 L473.10,348.00 L473.60,348.11 L474.10,347.16 L474.60,346.32 L475.10,346.07 L475.60,346.95 L476.10,346.72 L476.60,347.00 L477.10,346.61 L477.60,347.04 L478.10,347.26 L478.60,348.09 L479.10,347.70 L479.60,349.41 L480.10,348.77 L480.60,349.61 L481.10,350.36 L481.60,351.18 L482.10,351.35 L482.60,352.65 L483.10,352.56 L483.60,353.14 L484.10,354.90 L484.60,354.72 L485.10,355.71 L485.60,355.35 L486.10,356.43 L486.60,355.87 L487.10,356.83 L487.60,356.88 L488.10,357.38 L488.60,357.21 L489.10,357.27 L489.60,357.38 L490.10,357.88 L490.60,357.92 L491.10,357.98 L491.60,358.13 L492.10,358.21 L492.60,358.25 L493.10,358.24 L493.60,358.41 L494.10,358.40 L494.60,358.46 L495.10,358.51 L495.60,358.56 L496.10,358.60 L496.60,358.64 L497.10,358.67 L497.60,358.71 L498.10,358.74 L498.60,358.77 L499.10,358.79 L499.60,358.81 L500.10,358.84 L500.60,358.85 L501.10,358.87 L501.60,358.89 L502.10,358.90 L502.60,358.91 L503.10,358.92 L503.60,358.93 L504.10,358.94 L504.60,358.95 L505.10,358.96 L505.60,358.96 L506.10,358.97 L506.60,358.97 L507.10,358.98 L507.60,358.98 L508.10,358.98 L508.60,358.99 L509.10,358.99 L509.60,358.99 L510.10,358.99 L510.60,358.99 L511.10,358.99 L511.60,358.99 L512.10,359.00 L512.60,359.00 L513.10,359.00 L513.60,359.00 L514.10,359.00 L514.60,359.00 L515.10,359.00 L515.60,359.00 L516.10,359.00 L516.60,359.00" fill="none" stroke="#2a9fe0" stroke-width="1.2" stroke-linejoin="round"/>
<line x1="459.90000000000003" y1="323.3" x2="459.90000000000003" y2="359" stroke="#2a9fe0" stroke-width="0.9"/>
<line x1="244.79999999999998" y1="323.3" x2="244.79999999999998" y2="330.8" stroke="#e2268e" stroke-width="0.9"/>
<line x1="251" y1="365.3" x2="500" y2="365.3" stroke="#555" stroke-width="1.2"/>
<path d="M495.5,361.8 L503.6,365.3 L495.5,368.8 L497.5,365.3 Z" fill="#000"/>
<text x="361.2" y="378" font-size="12" font-weight="bold" text-anchor="start" fill="#000" >GITRL</text>
<line x1="266.2" y1="389.8" x2="287.5" y2="389.8" stroke="#6fd66f" stroke-width="1.6"/>
<text x="290" y="392.3" font-size="7.1" font-weight="bold" text-anchor="start" fill="#000" style="stroke-width:0.1px">No treatment</text>
<line x1="340.5" y1="389.8" x2="361" y2="389.8" stroke="#e67fb0" stroke-width="1.6"/>
<text x="363.7" y="392.3" font-size="7.1" font-weight="bold" text-anchor="start" fill="#000" style="stroke-width:0.1px">Peptide pulse</text>
<line x1="414.8" y1="389.8" x2="435.4" y2="389.8" stroke="#7ccde6" stroke-width="1.6"/>
<text x="436.9" y="392.3" font-size="7.1" font-weight="bold" text-anchor="start" fill="#000" font-style="italic" style="stroke-width:0.1px">S. typhimurium</text>
</svg></body></html>
